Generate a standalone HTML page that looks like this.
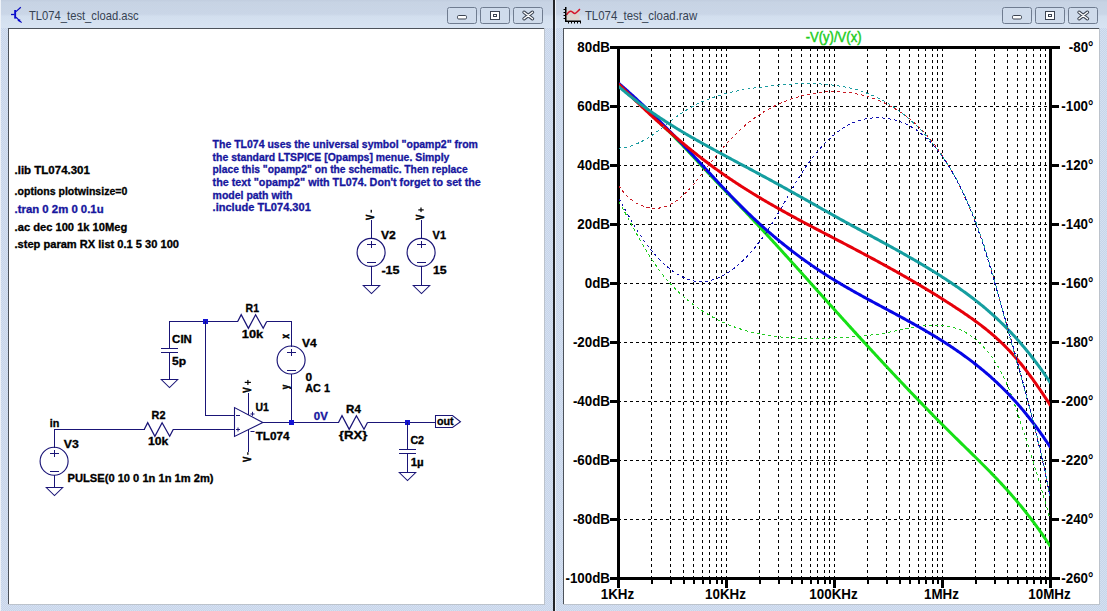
<!DOCTYPE html><html><head><meta charset="utf-8"><title>LTspice</title><style>
html,body{margin:0;padding:0;background:#cbd8ec;}
body{width:1107px;height:611px;overflow:hidden;background:#cbd8ec;position:relative;font-family:"Liberation Sans",sans-serif;}
svg{position:absolute;left:0;top:0;}
text{font-family:"Liberation Sans",sans-serif;}
</style></head><body>
<svg width="1107" height="611" viewBox="0 0 1107 611">
<defs><pattern id="dith" width="2" height="2" patternUnits="userSpaceOnUse"><rect width="2" height="2" fill="#c6d4ea"/><rect width="1" height="1" fill="#d6e1f1"/><rect x="1" y="1" width="1" height="1" fill="#d6e1f1"/></pattern></defs>
<rect x="0" y="0" width="1107" height="611" fill="url(#dith)"/>
<linearGradient id="tbg" x1="0" y1="0" x2="0" y2="1"><stop offset="0" stop-color="#bfcbdc"/><stop offset="0.08" stop-color="#c6d2e2"/><stop offset="0.5" stop-color="#c9d5e6"/><stop offset="0.58" stop-color="#d3dfee"/><stop offset="1" stop-color="#d9e5f3"/></linearGradient>
<rect x="0" y="0" width="1107" height="28" fill="url(#tbg)" opacity="0.85"/>
<rect x="0" y="0" width="1" height="611" fill="#eef2f8"/>
<rect x="8" y="28" width="537" height="577" fill="#bcc3cc"/>
<rect x="8" y="28" width="536" height="1" fill="#4c525a"/>
<rect x="8" y="28" width="1" height="576" fill="#4c525a"/>
<rect x="9" y="29" width="535" height="575" fill="#ffffff"/>
<rect x="563" y="28" width="537" height="577" fill="#bcc3cc"/>
<rect x="563" y="28" width="536" height="1" fill="#4c525a"/>
<rect x="563" y="28" width="1" height="576" fill="#4c525a"/>
<rect x="564" y="29" width="535" height="575" fill="#ffffff"/>
<rect x="553" y="0" width="2" height="611" fill="#222428"/>
<rect x="555" y="0" width="1" height="611" fill="#eef3fa"/>
<rect x="447.5" y="7.5" width="29" height="16" rx="2" fill="#cfdbeb" stroke="#6f7c90" stroke-width="1"/>
<rect x="480.5" y="7.5" width="29" height="16" rx="2" fill="#cfdbeb" stroke="#6f7c90" stroke-width="1"/>
<rect x="513.5" y="7.5" width="29" height="16" rx="2" fill="#cfdbeb" stroke="#6f7c90" stroke-width="1"/>
<rect x="457.5" y="15.5" width="9" height="3.5" rx="1.2" fill="#ffffff" stroke="#3c4452" stroke-width="1"/>
<rect x="490.5" y="11.5" width="9" height="8" fill="#ffffff" stroke="#3c4452" stroke-width="1"/>
<rect x="493.5" y="14.5" width="3" height="2" fill="#ffffff" stroke="#3c4452" stroke-width="1"/>
<path d="M524,12.2 L532.5,18.8 M532.5,12.2 L524,18.8" stroke="#3c4452" stroke-width="3.4" stroke-linecap="round"/>
<path d="M524,12.2 L532.5,18.8 M532.5,12.2 L524,18.8" stroke="#ffffff" stroke-width="1.4" stroke-linecap="round"/>
<rect x="1002.5" y="7.5" width="29" height="16" rx="2" fill="#cfdbeb" stroke="#6f7c90" stroke-width="1"/>
<rect x="1035.5" y="7.5" width="29" height="16" rx="2" fill="#cfdbeb" stroke="#6f7c90" stroke-width="1"/>
<rect x="1068.5" y="7.5" width="29" height="16" rx="2" fill="#cfdbeb" stroke="#6f7c90" stroke-width="1"/>
<rect x="1012.5" y="15.5" width="9" height="3.5" rx="1.2" fill="#ffffff" stroke="#3c4452" stroke-width="1"/>
<rect x="1045.5" y="11.5" width="9" height="8" fill="#ffffff" stroke="#3c4452" stroke-width="1"/>
<rect x="1048.5" y="14.5" width="3" height="2" fill="#ffffff" stroke="#3c4452" stroke-width="1"/>
<path d="M1079,12.2 L1087.5,18.8 M1087.5,12.2 L1079,18.8" stroke="#3c4452" stroke-width="3.4" stroke-linecap="round"/>
<path d="M1079,12.2 L1087.5,18.8 M1087.5,12.2 L1079,18.8" stroke="#ffffff" stroke-width="1.4" stroke-linecap="round"/>
<text transform="translate(29.0,19.6) scale(0.935,1)" x="0" y="0" font-size="12" fill="#364253" font-weight="normal" text-anchor="start">TL074_test_cload.asc</text>
<text transform="translate(584.9,19.6) scale(0.952,1)" x="0" y="0" font-size="12" fill="#364253" font-weight="normal" text-anchor="start">TL074_test_cload.raw</text>
<g stroke="#0a0ac0" fill="none"><line x1="11" y1="14.5" x2="14.5" y2="14.5" stroke-width="1.3"/><rect x="14.2" y="10" width="1.9" height="8.6" fill="#0a0ad0" stroke="none"/><line x1="16" y1="11.6" x2="20.8" y2="7.2" stroke-width="1.2"/><line x1="16" y1="17.2" x2="21.6" y2="22.6" stroke-width="1.2"/><path d="M17.3,20.3 L20.3,19.2 L19.6,22.2 Z" fill="#0a0ad0" stroke="none"/></g>
<g><rect x="566" y="10" width="13.5" height="10.5" fill="#ddd3c8" opacity="0.8"/><path d="M566.5,14.8 C568,12.5 569.5,11 571,11.2 C572.5,11.4 573.5,13.6 575,13.4 C576.8,13.2 578.2,10.5 580,9.2" stroke="#d41428" stroke-width="1.5" fill="none"/><rect x="565" y="7" width="1.5" height="15" fill="#000"/><rect x="565" y="20.5" width="16" height="1.5" fill="#000"/><rect x="563.5" y="9" width="2" height="1" fill="#000"/><rect x="563.5" y="12" width="2" height="1" fill="#000"/><rect x="563.5" y="15" width="2" height="1" fill="#000"/><rect x="563.5" y="18" width="2" height="1" fill="#000"/><rect x="568" y="22" width="1" height="1.5" fill="#000"/><rect x="571" y="22" width="1" height="1.5" fill="#000"/><rect x="574" y="22" width="1" height="1.5" fill="#000"/><rect x="577" y="22" width="1" height="1.5" fill="#000"/><rect x="580" y="22" width="1" height="1.5" fill="#000"/></g>
<rect x="371" y="220" width="1" height="19" fill="#1a1577"/>
<circle cx="371.1" cy="252.4" r="14" fill="none" stroke="#1a1577" stroke-width="1.15"/>
<rect x="367" y="244" width="9" height="1" fill="#1a1577"/>
<rect x="371" y="241" width="1" height="7" fill="#1a1577"/>
<rect x="367" y="262" width="9" height="1" fill="#1a1577"/>
<rect x="371" y="266" width="1" height="20" fill="#1a1577"/>
<path d="M363.3,285.5 L379.7,285.5 L371.5,293.6 Z" fill="none" stroke="#1a1577" stroke-width="1.05"/>
<rect x="421" y="220" width="1" height="19" fill="#1a1577"/>
<circle cx="421.1" cy="252.4" r="14" fill="none" stroke="#1a1577" stroke-width="1.15"/>
<rect x="417" y="244" width="9" height="1" fill="#1a1577"/>
<rect x="421" y="241" width="1" height="7" fill="#1a1577"/>
<rect x="417" y="262" width="9" height="1" fill="#1a1577"/>
<rect x="421" y="266" width="1" height="20" fill="#1a1577"/>
<path d="M413.3,285.5 L429.7,285.5 L421.5,293.6 Z" fill="none" stroke="#1a1577" stroke-width="1.05"/>
<text transform="translate(374.4,219.9) rotate(-90) scale(0.8,1)" x="0" y="0" font-size="10" font-weight="bold" fill="#000" stroke="#000" stroke-width="0.6">V</text>
<text transform="translate(424.4,219.9) rotate(-90) scale(0.8,1)" x="0" y="0" font-size="10" font-weight="bold" fill="#000" stroke="#000" stroke-width="0.6">V</text>
<rect x="370.6" y="209.8" width="1.3" height="2.8" fill="#000"/>
<rect x="418.3" y="209.3" width="5.4" height="1.2" fill="#000"/><rect x="420.4" y="207.5" width="1.2" height="4.6" fill="#000"/>
<rect x="169" y="321" width="69" height="1" fill="#1a1577"/>
<path d="M237.7,321.5 L241.2,314.7 L248.4,328.3 L255.6,314.7 L263.2,328.3 L266.7,321.5" fill="none" stroke="#1a1577" stroke-width="1.25"/>
<rect x="266.7" y="321" width="25.30000000000001" height="1" fill="#1a1577"/>
<rect x="203" y="319" width="5" height="5" fill="#1414d4"/>
<rect x="169" y="321" width="1" height="28" fill="#1a1577"/>
<rect x="161" y="348" width="17" height="1" fill="#1a1577"/>
<rect x="161" y="352" width="17" height="1" fill="#1a1577"/>
<rect x="169" y="352" width="1" height="28" fill="#1a1577"/>
<path d="M161.3,379.5 L177.7,379.5 L169.5,387.6 Z" fill="none" stroke="#1a1577" stroke-width="1.05"/>
<rect x="205" y="321" width="1" height="95" fill="#1a1577"/>
<rect x="205" y="415" width="30" height="1" fill="#1a1577"/>
<rect x="291" y="321" width="1" height="26" fill="#1a1577"/>
<circle cx="291.1" cy="360.0" r="14" fill="none" stroke="#1a1577" stroke-width="1.15"/>
<rect x="287" y="352" width="9" height="1" fill="#1a1577"/>
<rect x="291" y="349" width="1" height="7" fill="#1a1577"/>
<rect x="287" y="370" width="9" height="1" fill="#1a1577"/>
<rect x="291" y="374" width="1" height="49" fill="#1a1577"/>
<text transform="translate(288.5,338.5) rotate(-90) scale(0.8,1)" x="0" y="0" font-size="10" font-weight="bold" fill="#000" stroke="#000" stroke-width="0.6">x</text>
<text transform="translate(288.5,389.3) rotate(-90) scale(0.8,1)" x="0" y="0" font-size="10" font-weight="bold" fill="#000" stroke="#000" stroke-width="0.6">y</text>
<path d="M234.5,407.6 L234.5,436.4 L262.8,422.5 Z" fill="none" stroke="#1a1577" stroke-width="1.1"/>
<rect x="236" y="415" width="4" height="1" fill="#1a1577"/>
<rect x="236" y="429" width="4" height="1" fill="#1a1577"/>
<rect x="237.5" y="427.5" width="1" height="4" fill="#1a1577"/>
<rect x="248" y="393" width="1" height="22" fill="#1a1577"/>
<rect x="248" y="430" width="1" height="22" fill="#1a1577"/>
<rect x="250.5" y="413.5" width="4" height="1" fill="#1a1577"/>
<rect x="252" y="411.8" width="1" height="4" fill="#1a1577"/>
<rect x="250.5" y="431" width="4" height="1" fill="#1a1577"/>
<text transform="translate(251.2,392.8) rotate(-90) scale(0.8,1)" x="0" y="0" font-size="10" font-weight="bold" fill="#000" stroke="#000" stroke-width="0.6">V</text>
<text transform="translate(251.2,461.9) rotate(-90) scale(0.8,1)" x="0" y="0" font-size="10" font-weight="bold" fill="#000" stroke="#000" stroke-width="0.6">V</text>
<rect x="244.7" y="381.8" width="6.2" height="1.2" fill="#000"/><rect x="247.3" y="379.9" width="1.2" height="5" fill="#000"/>
<rect x="247.2" y="452.2" width="1.3" height="2.6" fill="#000"/>
<rect x="54" y="429" width="91" height="1" fill="#1a1577"/>
<path d="M144.2,429.5 L147.7,422.7 L154.9,436.3 L162.1,422.7 L169.7,436.3 L173.2,429.5" fill="none" stroke="#1a1577" stroke-width="1.25"/>
<rect x="172.9" y="429" width="62.099999999999994" height="1" fill="#1a1577"/>
<rect x="54" y="429" width="1" height="19" fill="#1a1577"/>
<circle cx="54.1" cy="461.2" r="14" fill="none" stroke="#1a1577" stroke-width="1.15"/>
<rect x="50" y="453" width="9" height="1" fill="#1a1577"/>
<rect x="54" y="450" width="1" height="7" fill="#1a1577"/>
<rect x="50" y="471" width="9" height="1" fill="#1a1577"/>
<rect x="54" y="475" width="1" height="13" fill="#1a1577"/>
<path d="M46.3,487.5 L62.7,487.5 L54.5,495.6 Z" fill="none" stroke="#1a1577" stroke-width="1.05"/>
<rect x="262" y="422" width="77" height="1" fill="#1a1577"/>
<rect x="289" y="420" width="5" height="5" fill="#1414d4"/>
<path d="M338.5,422.5 L342.0,415.7 L349.2,429.3 L356.4,415.7 L364.0,429.3 L367.5,422.5" fill="none" stroke="#1a1577" stroke-width="1.25"/>
<rect x="367.3" y="422" width="68.69999999999999" height="1" fill="#1a1577"/>
<rect x="405" y="420" width="5" height="5" fill="#1414d4"/>
<rect x="407" y="422" width="1" height="28" fill="#1a1577"/>
<rect x="399" y="449" width="17" height="1" fill="#1a1577"/>
<rect x="399" y="453" width="17" height="1" fill="#1a1577"/>
<rect x="407" y="453" width="1" height="20" fill="#1a1577"/>
<path d="M399.3,472.5 L415.7,472.5 L407.5,480.6 Z" fill="none" stroke="#1a1577" stroke-width="1.05"/>
<path d="M435.5,415.5 L452.5,415.5 L460.5,421.8 L452.5,427.5 L435.5,427.5 Z" fill="none" stroke="#1a1577" stroke-width="1.05"/>
<text x="14.5" y="174" font-size="10.4" fill="#000" font-weight="bold" text-anchor="start" textLength="75.4" lengthAdjust="spacingAndGlyphs" stroke="#000" stroke-width="0.3">.lib TL074.301</text>
<text x="14.6" y="194.7" font-size="10.4" fill="#000" font-weight="bold" text-anchor="start" textLength="112.7" lengthAdjust="spacingAndGlyphs" stroke="#000" stroke-width="0.3">.options plotwinsize=0</text>
<text x="14.6" y="212.7" font-size="10.4" fill="#16169e" font-weight="bold" text-anchor="start" textLength="89.0" lengthAdjust="spacingAndGlyphs" stroke="#16169e" stroke-width="0.3">.tran 0 2m 0 0.1u</text>
<text x="14.6" y="230.6" font-size="10.4" fill="#000" font-weight="bold" text-anchor="start" textLength="112.7" lengthAdjust="spacingAndGlyphs" stroke="#000" stroke-width="0.3">.ac dec 100 1k 10Meg</text>
<text x="14.5" y="248.4" font-size="10.4" fill="#000" font-weight="bold" text-anchor="start" textLength="164.5" lengthAdjust="spacingAndGlyphs" stroke="#000" stroke-width="0.3">.step param RX list 0.1 5 30 100</text>
<text x="212.6" y="147.8" font-size="10.4" fill="#16169e" font-weight="bold" text-anchor="start" textLength="265.3" lengthAdjust="spacingAndGlyphs" stroke="#16169e" stroke-width="0.3">The TL074 uses the universal symbol &quot;opamp2&quot; from</text>
<text x="212.6" y="160.5" font-size="10.4" fill="#16169e" font-weight="bold" text-anchor="start" textLength="236.8" lengthAdjust="spacingAndGlyphs" stroke="#16169e" stroke-width="0.3">the standard LTSPICE [Opamps] menue. Simply</text>
<text x="212.6" y="173.2" font-size="10.4" fill="#16169e" font-weight="bold" text-anchor="start" textLength="255.1" lengthAdjust="spacingAndGlyphs" stroke="#16169e" stroke-width="0.3">place this &quot;opamp2&quot; on the schematic. Then replace</text>
<text x="212.6" y="185.9" font-size="10.4" fill="#16169e" font-weight="bold" text-anchor="start" textLength="268.2" lengthAdjust="spacingAndGlyphs" stroke="#16169e" stroke-width="0.3">the text &quot;opamp2&quot; with TL074. Don't forget to set the</text>
<text x="212.6" y="198.6" font-size="10.4" fill="#16169e" font-weight="bold" text-anchor="start" textLength="79.8" lengthAdjust="spacingAndGlyphs" stroke="#16169e" stroke-width="0.3">model path with</text>
<text x="212.6" y="211.3" font-size="10.4" fill="#16169e" font-weight="bold" text-anchor="start" textLength="98.2" lengthAdjust="spacingAndGlyphs" stroke="#16169e" stroke-width="0.3">.include TL074.301</text>
<text x="381" y="238.6" font-size="10.4" fill="#000" font-weight="bold" text-anchor="start" textLength="14.8" lengthAdjust="spacingAndGlyphs" stroke="#000" stroke-width="0.3">V2</text>
<text x="381.4" y="274.3" font-size="10.4" fill="#000" font-weight="bold" text-anchor="start" textLength="18.2" lengthAdjust="spacingAndGlyphs" stroke="#000" stroke-width="0.3">-15</text>
<text x="432.6" y="238.6" font-size="10.4" fill="#000" font-weight="bold" text-anchor="start" textLength="13.4" lengthAdjust="spacingAndGlyphs" stroke="#000" stroke-width="0.3">V1</text>
<text x="433" y="274.3" font-size="10.4" fill="#000" font-weight="bold" text-anchor="start" textLength="13.7" lengthAdjust="spacingAndGlyphs" stroke="#000" stroke-width="0.3">15</text>
<text x="245.6" y="311.8" font-size="10.4" fill="#000" font-weight="bold" text-anchor="start" textLength="13.4" lengthAdjust="spacingAndGlyphs" stroke="#000" stroke-width="0.3">R1</text>
<text x="241.8" y="337.6" font-size="10.4" fill="#000" font-weight="bold" text-anchor="start" textLength="21.3" lengthAdjust="spacingAndGlyphs" stroke="#000" stroke-width="0.3">10k</text>
<text x="172.1" y="342.9" font-size="10.4" fill="#000" font-weight="bold" text-anchor="start" textLength="19.8" lengthAdjust="spacingAndGlyphs" stroke="#000" stroke-width="0.3">CIN</text>
<text x="172.1" y="364.6" font-size="10.4" fill="#000" font-weight="bold" text-anchor="start" textLength="14.1" lengthAdjust="spacingAndGlyphs" stroke="#000" stroke-width="0.3">5p</text>
<text x="302.1" y="346.8" font-size="10.4" fill="#000" font-weight="bold" text-anchor="start" textLength="14.7" lengthAdjust="spacingAndGlyphs" stroke="#000" stroke-width="0.3">V4</text>
<text x="305.6" y="380.7" font-size="10.4" fill="#000" font-weight="bold" text-anchor="start" textLength="6.6" lengthAdjust="spacingAndGlyphs" stroke="#000" stroke-width="0.3">0</text>
<text x="305.3" y="392.3" font-size="10.4" fill="#000" font-weight="bold" text-anchor="start" textLength="24.6" lengthAdjust="spacingAndGlyphs" stroke="#000" stroke-width="0.3">AC 1</text>
<text x="255.5" y="410.7" font-size="10.4" fill="#000" font-weight="bold" text-anchor="start" textLength="13.4" lengthAdjust="spacingAndGlyphs" stroke="#000" stroke-width="0.3">U1</text>
<text x="255.7" y="439.7" font-size="10.4" fill="#000" font-weight="bold" text-anchor="start" textLength="33.9" lengthAdjust="spacingAndGlyphs" stroke="#000" stroke-width="0.3">TL074</text>
<text x="313.8" y="419.7" font-size="10.4" fill="#16169e" font-weight="bold" text-anchor="start" textLength="14.0" lengthAdjust="spacingAndGlyphs" stroke="#16169e" stroke-width="0.3">0V</text>
<text x="346.1" y="412.6" font-size="10.4" fill="#000" font-weight="bold" text-anchor="start" textLength="14.8" lengthAdjust="spacingAndGlyphs" stroke="#000" stroke-width="0.3">R4</text>
<text x="338.8" y="438.9" font-size="10.4" fill="#000" font-weight="bold" text-anchor="start" textLength="28.6" lengthAdjust="spacingAndGlyphs" stroke="#000" stroke-width="0.3">{RX}</text>
<text x="410.4" y="443.6" font-size="10.4" fill="#000" font-weight="bold" text-anchor="start" textLength="13.7" lengthAdjust="spacingAndGlyphs" stroke="#000" stroke-width="0.3">C2</text>
<text x="410.7" y="465.8" font-size="10.4" fill="#000" font-weight="bold" text-anchor="start" textLength="13.0" lengthAdjust="spacingAndGlyphs" stroke="#000" stroke-width="0.3">1µ</text>
<text x="436.9" y="425.3" font-size="10.4" fill="#000" font-weight="bold" text-anchor="start" textLength="16.7" lengthAdjust="spacingAndGlyphs" stroke="#000" stroke-width="0.3">out</text>
<text x="49.7" y="427" font-size="10.4" fill="#000" font-weight="bold" text-anchor="start" textLength="9.6" lengthAdjust="spacingAndGlyphs" stroke="#000" stroke-width="0.3">in</text>
<text x="151.6" y="419.4" font-size="10.4" fill="#000" font-weight="bold" text-anchor="start" textLength="13.9" lengthAdjust="spacingAndGlyphs" stroke="#000" stroke-width="0.3">R2</text>
<text x="148.1" y="445.4" font-size="10.4" fill="#000" font-weight="bold" text-anchor="start" textLength="20.3" lengthAdjust="spacingAndGlyphs" stroke="#000" stroke-width="0.3">10k</text>
<text x="63.8" y="447.6" font-size="10.4" fill="#000" font-weight="bold" text-anchor="start" textLength="15.0" lengthAdjust="spacingAndGlyphs" stroke="#000" stroke-width="0.3">V3</text>
<text x="67.6" y="481.6" font-size="10.4" fill="#000" font-weight="bold" text-anchor="start" textLength="145.9" lengthAdjust="spacingAndGlyphs" stroke="#000" stroke-width="0.3">PULSE(0 10 0 1n 1n 1m 2m)</text>
<defs><pattern id="vd" x="0" y="0" width="1" height="6" patternUnits="userSpaceOnUse"><rect width="1" height="3" fill="#000"/></pattern><pattern id="hd" x="0" y="0" width="6" height="1" patternUnits="userSpaceOnUse"><rect width="3" height="1" fill="#000"/></pattern></defs>
<rect x="651" y="49" width="1" height="528" fill="url(#vd)"/>
<rect x="670" y="49" width="1" height="528" fill="url(#vd)"/>
<rect x="683" y="49" width="1" height="528" fill="url(#vd)"/>
<rect x="693" y="49" width="1" height="528" fill="url(#vd)"/>
<rect x="702" y="49" width="1" height="528" fill="url(#vd)"/>
<rect x="709" y="49" width="1" height="528" fill="url(#vd)"/>
<rect x="716" y="49" width="1" height="528" fill="url(#vd)"/>
<rect x="721" y="49" width="1" height="528" fill="url(#vd)"/>
<rect x="726" y="49" width="1" height="528" fill="url(#vd)"/>
<rect x="759" y="49" width="1" height="528" fill="url(#vd)"/>
<rect x="778" y="49" width="1" height="528" fill="url(#vd)"/>
<rect x="791" y="49" width="1" height="528" fill="url(#vd)"/>
<rect x="801" y="49" width="1" height="528" fill="url(#vd)"/>
<rect x="810" y="49" width="1" height="528" fill="url(#vd)"/>
<rect x="817" y="49" width="1" height="528" fill="url(#vd)"/>
<rect x="824" y="49" width="1" height="528" fill="url(#vd)"/>
<rect x="829" y="49" width="1" height="528" fill="url(#vd)"/>
<rect x="834" y="49" width="1" height="528" fill="url(#vd)"/>
<rect x="867" y="49" width="1" height="528" fill="url(#vd)"/>
<rect x="886" y="49" width="1" height="528" fill="url(#vd)"/>
<rect x="899" y="49" width="1" height="528" fill="url(#vd)"/>
<rect x="909" y="49" width="1" height="528" fill="url(#vd)"/>
<rect x="918" y="49" width="1" height="528" fill="url(#vd)"/>
<rect x="925" y="49" width="1" height="528" fill="url(#vd)"/>
<rect x="932" y="49" width="1" height="528" fill="url(#vd)"/>
<rect x="937" y="49" width="1" height="528" fill="url(#vd)"/>
<rect x="942" y="49" width="1" height="528" fill="url(#vd)"/>
<rect x="975" y="49" width="1" height="528" fill="url(#vd)"/>
<rect x="994" y="49" width="1" height="528" fill="url(#vd)"/>
<rect x="1007" y="49" width="1" height="528" fill="url(#vd)"/>
<rect x="1017" y="49" width="1" height="528" fill="url(#vd)"/>
<rect x="1026" y="49" width="1" height="528" fill="url(#vd)"/>
<rect x="1033" y="49" width="1" height="528" fill="url(#vd)"/>
<rect x="1040" y="49" width="1" height="528" fill="url(#vd)"/>
<rect x="1045" y="49" width="1" height="528" fill="url(#vd)"/>
<rect x="620" y="106" width="429" height="1" fill="url(#hd)"/>
<rect x="620" y="165" width="429" height="1" fill="url(#hd)"/>
<rect x="620" y="224" width="429" height="1" fill="url(#hd)"/>
<rect x="620" y="283" width="429" height="1" fill="url(#hd)"/>
<rect x="620" y="342" width="429" height="1" fill="url(#hd)"/>
<rect x="620" y="401" width="429" height="1" fill="url(#hd)"/>
<rect x="620" y="460" width="429" height="1" fill="url(#hd)"/>
<rect x="620" y="519" width="429" height="1" fill="url(#hd)"/>
<rect x="610" y="46" width="450" height="3" fill="#000"/>
<rect x="610" y="577" width="450" height="3" fill="#000"/>
<rect x="617" y="46" width="3" height="542" fill="#000"/>
<rect x="1049" y="46" width="3" height="542" fill="#000"/>
<rect x="610" y="105" width="8" height="3" fill="#000"/>
<rect x="1051" y="105" width="8" height="3" fill="#000"/>
<rect x="610" y="164" width="8" height="3" fill="#000"/>
<rect x="1051" y="164" width="8" height="3" fill="#000"/>
<rect x="610" y="223" width="8" height="3" fill="#000"/>
<rect x="1051" y="223" width="8" height="3" fill="#000"/>
<rect x="610" y="282" width="8" height="3" fill="#000"/>
<rect x="1051" y="282" width="8" height="3" fill="#000"/>
<rect x="610" y="341" width="8" height="3" fill="#000"/>
<rect x="1051" y="341" width="8" height="3" fill="#000"/>
<rect x="610" y="400" width="8" height="3" fill="#000"/>
<rect x="1051" y="400" width="8" height="3" fill="#000"/>
<rect x="610" y="459" width="8" height="3" fill="#000"/>
<rect x="1051" y="459" width="8" height="3" fill="#000"/>
<rect x="610" y="518" width="8" height="3" fill="#000"/>
<rect x="1051" y="518" width="8" height="3" fill="#000"/>
<rect x="651" y="580" width="2" height="4" fill="#000"/>
<rect x="670" y="580" width="2" height="4" fill="#000"/>
<rect x="683" y="580" width="2" height="4" fill="#000"/>
<rect x="693" y="580" width="2" height="4" fill="#000"/>
<rect x="702" y="580" width="2" height="4" fill="#000"/>
<rect x="709" y="580" width="2" height="4" fill="#000"/>
<rect x="716" y="580" width="2" height="4" fill="#000"/>
<rect x="721" y="580" width="2" height="4" fill="#000"/>
<rect x="725" y="580" width="3" height="8" fill="#000"/>
<rect x="759" y="580" width="2" height="4" fill="#000"/>
<rect x="778" y="580" width="2" height="4" fill="#000"/>
<rect x="791" y="580" width="2" height="4" fill="#000"/>
<rect x="801" y="580" width="2" height="4" fill="#000"/>
<rect x="810" y="580" width="2" height="4" fill="#000"/>
<rect x="817" y="580" width="2" height="4" fill="#000"/>
<rect x="824" y="580" width="2" height="4" fill="#000"/>
<rect x="829" y="580" width="2" height="4" fill="#000"/>
<rect x="833" y="580" width="3" height="8" fill="#000"/>
<rect x="867" y="580" width="2" height="4" fill="#000"/>
<rect x="886" y="580" width="2" height="4" fill="#000"/>
<rect x="899" y="580" width="2" height="4" fill="#000"/>
<rect x="909" y="580" width="2" height="4" fill="#000"/>
<rect x="918" y="580" width="2" height="4" fill="#000"/>
<rect x="925" y="580" width="2" height="4" fill="#000"/>
<rect x="932" y="580" width="2" height="4" fill="#000"/>
<rect x="937" y="580" width="2" height="4" fill="#000"/>
<rect x="941" y="580" width="3" height="8" fill="#000"/>
<rect x="975" y="580" width="2" height="4" fill="#000"/>
<rect x="994" y="580" width="2" height="4" fill="#000"/>
<rect x="1007" y="580" width="2" height="4" fill="#000"/>
<rect x="1017" y="580" width="2" height="4" fill="#000"/>
<rect x="1026" y="580" width="2" height="4" fill="#000"/>
<rect x="1033" y="580" width="2" height="4" fill="#000"/>
<rect x="1040" y="580" width="2" height="4" fill="#000"/>
<rect x="1045" y="580" width="2" height="4" fill="#000"/>
<clipPath id="pc"><rect x="619" y="48" width="431" height="530"/></clipPath>
<g clip-path="url(#pc)" fill="none" stroke-linejoin="round" stroke-linecap="butt">
<path d="M618.50,84.51 L619.50,85.45 L620.50,86.39 L621.50,87.32 L622.50,88.25 L623.50,89.17 L624.50,90.10 L625.50,91.02 L626.50,91.94 L627.50,92.86 L628.50,93.78 L629.50,94.70 L630.50,95.61 L631.50,96.53 L632.50,97.44 L633.50,98.36 L634.50,99.27 L635.50,100.18 L636.50,101.09 L637.50,102.00 L638.50,102.92 L639.50,103.83 L640.50,104.74 L641.50,105.65 L642.50,106.57 L643.50,107.48 L644.50,108.40 L645.50,109.31 L646.50,110.23 L647.50,111.15 L648.50,112.07 L649.50,112.99 L650.50,113.92 L651.50,114.85 L652.50,115.77 L653.50,116.70 L654.50,117.64 L655.50,118.57 L656.50,119.51 L657.50,120.46 L658.50,121.40 L659.50,122.35 L660.50,123.30 L661.50,124.26 L662.50,125.21 L663.50,126.18 L664.50,127.14 L665.50,128.12 L666.50,129.09 L667.50,130.07 L668.50,131.05 L669.50,132.04 L670.50,133.04 L671.50,134.04 L672.50,135.04 L673.50,136.05 L674.50,137.06 L675.50,138.08 L676.50,139.10 L677.50,140.13 L678.50,141.16 L679.50,142.20 L680.50,143.23 L681.50,144.27 L682.50,145.32 L683.50,146.37 L684.50,147.42 L685.50,148.47 L686.50,149.53 L687.50,150.59 L688.50,151.65 L689.50,152.72 L690.50,153.79 L691.50,154.86 L692.50,155.93 L693.50,157.00 L694.50,158.08 L695.50,159.15 L696.50,160.23 L697.50,161.31 L698.50,162.39 L699.50,163.47 L700.50,164.55 L701.50,165.63 L702.50,166.71 L703.50,167.79 L704.50,168.87 L705.50,169.95 L706.50,171.03 L707.50,172.11 L708.50,173.18 L709.50,174.25 L710.50,175.33 L711.50,176.40 L712.50,177.46 L713.50,178.53 L714.50,179.59 L715.50,180.65 L716.50,181.71 L717.50,182.76 L718.50,183.81 L719.50,184.85 L720.50,185.90 L721.50,186.94 L722.50,187.98 L723.50,189.02 L724.50,190.05 L725.50,191.09 L726.50,192.12 L727.50,193.15 L728.50,194.18 L729.50,195.21 L730.50,196.25 L731.50,197.28 L732.50,198.31 L733.50,199.34 L734.50,200.37 L735.50,201.40 L736.50,202.44 L737.50,203.47 L738.50,204.51 L739.50,205.55 L740.50,206.59 L741.50,207.63 L742.50,208.67 L743.50,209.72 L744.50,210.77 L745.50,211.82 L746.50,212.87 L747.50,213.93 L748.50,214.98 L749.50,216.04 L750.50,217.10 L751.50,218.16 L752.50,219.23 L753.50,220.29 L754.50,221.36 L755.50,222.43 L756.50,223.50 L757.50,224.57 L758.50,225.64 L759.50,226.72 L760.50,227.80 L761.50,228.87 L762.50,229.95 L763.50,231.04 L764.50,232.12 L765.50,233.20 L766.50,234.29 L767.50,235.37 L768.50,236.46 L769.50,237.55 L770.50,238.64 L771.50,239.73 L772.50,240.83 L773.50,241.92 L774.50,243.02 L775.50,244.11 L776.50,245.21 L777.50,246.31 L778.50,247.41 L779.50,248.51 L780.50,249.61 L781.50,250.71 L782.50,251.82 L783.50,252.92 L784.50,254.03 L785.50,255.13 L786.50,256.24 L787.50,257.35 L788.50,258.45 L789.50,259.56 L790.50,260.67 L791.50,261.78 L792.50,262.89 L793.50,264.00 L794.50,265.12 L795.50,266.23 L796.50,267.34 L797.50,268.45 L798.50,269.57 L799.50,270.68 L800.50,271.80 L801.50,272.91 L802.50,274.03 L803.50,275.14 L804.50,276.26 L805.50,277.37 L806.50,278.49 L807.50,279.60 L808.50,280.72 L809.50,281.84 L810.50,282.95 L811.50,284.07 L812.50,285.19 L813.50,286.30 L814.50,287.42 L815.50,288.53 L816.50,289.65 L817.50,290.77 L818.50,291.88 L819.50,293.00 L820.50,294.11 L821.50,295.23 L822.50,296.34 L823.50,297.46 L824.50,298.57 L825.50,299.68 L826.50,300.80 L827.50,301.91 L828.50,303.02 L829.50,304.13 L830.50,305.25 L831.50,306.36 L832.50,307.47 L833.50,308.58 L834.50,309.69 L835.50,310.80 L836.50,311.91 L837.50,313.01 L838.50,314.12 L839.50,315.23 L840.50,316.34 L841.50,317.44 L842.50,318.55 L843.50,319.65 L844.50,320.76 L845.50,321.86 L846.50,322.96 L847.50,324.07 L848.50,325.17 L849.50,326.27 L850.50,327.37 L851.50,328.47 L852.50,329.57 L853.50,330.67 L854.50,331.77 L855.50,332.87 L856.50,333.96 L857.50,335.06 L858.50,336.15 L859.50,337.25 L860.50,338.34 L861.50,339.44 L862.50,340.53 L863.50,341.62 L864.50,342.71 L865.50,343.80 L866.50,344.89 L867.50,345.98 L868.50,347.07 L869.50,348.16 L870.50,349.24 L871.50,350.33 L872.50,351.41 L873.50,352.50 L874.50,353.58 L875.50,354.66 L876.50,355.75 L877.50,356.83 L878.50,357.91 L879.50,358.98 L880.50,360.06 L881.50,361.14 L882.50,362.22 L883.50,363.29 L884.50,364.37 L885.50,365.44 L886.50,366.51 L887.50,367.58 L888.50,368.65 L889.50,369.72 L890.50,370.79 L891.50,371.86 L892.50,372.92 L893.50,373.99 L894.50,375.05 L895.50,376.12 L896.50,377.18 L897.50,378.24 L898.50,379.30 L899.50,380.36 L900.50,381.42 L901.50,382.48 L902.50,383.53 L903.50,384.59 L904.50,385.64 L905.50,386.69 L906.50,387.75 L907.50,388.80 L908.50,389.85 L909.50,390.89 L910.50,391.94 L911.50,392.99 L912.50,394.03 L913.50,395.07 L914.50,396.12 L915.50,397.16 L916.50,398.20 L917.50,399.23 L918.50,400.27 L919.50,401.31 L920.50,402.34 L921.50,403.38 L922.50,404.41 L923.50,405.44 L924.50,406.47 L925.50,407.50 L926.50,408.52 L927.50,409.55 L928.50,410.57 L929.50,411.60 L930.50,412.62 L931.50,413.64 L932.50,414.66 L933.50,415.68 L934.50,416.69 L935.50,417.71 L936.50,418.72 L937.50,419.73 L938.50,420.74 L939.50,421.75 L940.50,422.76 L941.50,423.77 L942.50,424.77 L943.50,425.77 L944.50,426.78 L945.50,427.78 L946.50,428.77 L947.50,429.77 L948.50,430.77 L949.50,431.76 L950.50,432.75 L951.50,433.75 L952.50,434.74 L953.50,435.72 L954.50,436.71 L955.50,437.70 L956.50,438.68 L957.50,439.66 L958.50,440.64 L959.50,441.62 L960.50,442.60 L961.50,443.58 L962.50,444.56 L963.50,445.53 L964.50,446.51 L965.50,447.49 L966.50,448.46 L967.50,449.44 L968.50,450.42 L969.50,451.40 L970.50,452.38 L971.50,453.36 L972.50,454.34 L973.50,455.32 L974.50,456.30 L975.50,457.29 L976.50,458.27 L977.50,459.26 L978.50,460.25 L979.50,461.24 L980.50,462.23 L981.50,463.23 L982.50,464.23 L983.50,465.23 L984.50,466.23 L985.50,467.24 L986.50,468.25 L987.50,469.27 L988.50,470.28 L989.50,471.30 L990.50,472.33 L991.50,473.36 L992.50,474.39 L993.50,475.43 L994.50,476.47 L995.50,477.51 L996.50,478.56 L997.50,479.62 L998.50,480.68 L999.50,481.74 L1000.50,482.81 L1001.50,483.89 L1002.50,484.97 L1003.50,486.06 L1004.50,487.15 L1005.50,488.25 L1006.50,489.36 L1007.50,490.47 L1008.50,491.59 L1009.50,492.72 L1010.50,493.85 L1011.50,494.99 L1012.50,496.13 L1013.50,497.29 L1014.50,498.45 L1015.50,499.62 L1016.50,500.79 L1017.50,501.98 L1018.50,503.17 L1019.50,504.37 L1020.50,505.58 L1021.50,506.80 L1022.50,508.03 L1023.50,509.26 L1024.50,510.51 L1025.50,511.76 L1026.50,513.02 L1027.50,514.30 L1028.50,515.58 L1029.50,516.87 L1030.50,518.17 L1031.50,519.49 L1032.50,520.81 L1033.50,522.14 L1034.50,523.48 L1035.50,524.84 L1036.50,526.20 L1037.50,527.58 L1038.50,528.97 L1039.50,530.37 L1040.50,531.78 L1041.50,533.20 L1042.50,534.63 L1043.50,536.08 L1044.50,537.53 L1045.50,539.00 L1046.50,540.49 L1047.50,541.98 L1048.50,543.49 L1049.50,545.01 L1050.50,546.54" stroke="#16e016" stroke-width="3"/>
<path d="M618.93,201.85 L619.70,203.19 L620.48,204.53 L621.24,205.87 L622.00,207.21 L622.76,208.55 L623.51,209.89 L624.26,211.23 L625.00,212.57 L625.74,213.91 L626.48,215.25 L627.21,216.59 L627.94,217.93 L628.67,219.26 L629.40,220.60 L630.13,221.93 L630.86,223.27 L631.58,224.60 L632.30,225.93 L633.03,227.26 L633.75,228.59 L634.48,229.91 L635.20,231.24 L635.93,232.56 L636.66,233.88 L637.39,235.19 L638.12,236.50 L638.85,237.82 L639.59,239.12 L640.32,240.43 L641.06,241.73 L641.81,243.03 L642.55,244.32 L643.30,245.61 L644.06,246.90 L644.82,248.18 L645.58,249.46 L646.35,250.74 L647.12,252.01 L647.90,253.28 L648.68,254.54 L649.47,255.80 L650.27,257.05 L651.07,258.30 L651.88,259.54 L652.69,260.78 L653.51,262.01 L654.34,263.24 L655.18,264.46 L656.02,265.67 L656.87,266.88 L657.73,268.08 L658.60,269.28 L659.48,270.47 L660.37,271.66 L661.26,272.83 L662.17,274.00 L663.09,275.17 L664.01,276.33 L664.95,277.48 L665.90,278.62 L666.86,279.75 L667.83,280.88 L668.81,282.00 L669.80,283.11 L670.81,284.22 L671.82,285.31 L672.85,286.40 L673.89,287.48 L674.94,288.55 L676.01,289.62 L677.08,290.67 L678.17,291.71 L679.26,292.75 L680.37,293.78 L681.48,294.79 L682.61,295.80 L683.74,296.80 L684.89,297.79 L686.04,298.77 L687.21,299.74 L688.38,300.70 L689.57,301.64 L690.76,302.58 L691.96,303.51 L693.17,304.43 L694.39,305.33 L695.62,306.23 L696.85,307.11 L698.09,307.99 L699.34,308.85 L700.60,309.70 L701.87,310.54 L703.14,311.36 L704.42,312.18 L705.71,312.98 L707.00,313.77 L708.30,314.55 L709.61,315.32 L710.92,316.07 L712.24,316.81 L713.57,317.54 L714.90,318.25 L716.24,318.95 L717.58,319.64 L718.93,320.32 L720.28,320.98 L721.64,321.63 L723.00,322.26 L724.37,322.88 L725.74,323.49 L727.12,324.08 L728.50,324.66 L729.88,325.22 L731.27,325.77 L732.66,326.30 L734.06,326.82 L735.46,327.33 L736.86,327.82 L738.27,328.30 L739.68,328.76 L741.09,329.21 L742.51,329.65 L743.93,330.08 L745.35,330.49 L746.78,330.89 L748.21,331.27 L749.64,331.65 L751.08,332.01 L752.52,332.36 L753.96,332.69 L755.41,333.02 L756.85,333.33 L758.31,333.63 L759.76,333.92 L761.22,334.20 L762.68,334.47 L764.14,334.73 L765.60,334.98 L767.07,335.21 L768.54,335.44 L770.01,335.66 L771.49,335.86 L772.96,336.06 L774.44,336.25 L775.92,336.43 L777.41,336.60 L778.89,336.75 L780.38,336.91 L781.87,337.05 L783.36,337.18 L784.86,337.31 L786.35,337.42 L787.85,337.53 L789.35,337.63 L790.85,337.72 L792.35,337.81 L793.86,337.89 L795.36,337.96 L796.87,338.02 L798.38,338.08 L799.89,338.13 L801.40,338.17 L802.92,338.21 L804.43,338.24 L805.95,338.27 L807.47,338.29 L808.98,338.30 L810.50,338.31 L812.02,338.31 L813.55,338.31 L815.07,338.30 L816.59,338.29 L818.12,338.27 L819.64,338.25 L821.17,338.22 L822.70,338.19 L824.22,338.16 L825.75,338.12 L827.28,338.08 L828.81,338.04 L830.34,337.99 L831.87,337.94 L833.40,337.88 L834.93,337.82 L836.46,337.76 L837.99,337.70 L839.52,337.63 L841.06,337.55 L842.59,337.47 L844.12,337.39 L845.65,337.30 L847.18,337.21 L848.71,337.11 L850.24,337.01 L851.78,336.90 L853.31,336.79 L854.84,336.67 L856.37,336.55 L857.90,336.42 L859.43,336.28 L860.96,336.14 L862.48,335.99 L864.01,335.84 L865.54,335.68 L867.06,335.51 L868.59,335.34 L870.11,335.15 L871.64,334.97 L873.16,334.77 L874.68,334.57 L876.20,334.35 L877.72,334.14 L879.24,333.91 L880.76,333.67 L882.28,333.43 L883.79,333.18 L885.30,332.92 L886.82,332.65 L888.33,332.37 L889.84,332.09 L891.34,331.79 L892.85,331.49 L894.36,331.19 L895.86,330.88 L897.36,330.58 L898.86,330.27 L900.36,329.96 L901.85,329.65 L903.35,329.34 L904.84,329.03 L906.33,328.73 L907.82,328.44 L909.30,328.15 L910.79,327.87 L912.27,327.60 L913.75,327.33 L915.23,327.08 L916.70,326.84 L918.17,326.62 L919.64,326.40 L921.11,326.21 L922.58,326.03 L924.04,325.86 L925.50,325.71 L926.95,325.59 L928.40,325.48 L929.85,325.39 L931.29,325.32 L932.73,325.27 L934.17,325.24 L935.60,325.24 L937.02,325.26 L938.44,325.30 L939.85,325.37 L941.26,325.46 L942.66,325.58 L944.05,325.73 L945.44,325.90 L946.82,326.11 L948.19,326.34 L949.56,326.60 L950.92,326.89 L952.27,327.21 L953.61,327.56 L954.94,327.95 L956.26,328.36 L957.58,328.81 L958.88,329.30 L960.18,329.82 L961.46,330.38 L962.74,330.97 L964.00,331.60 L965.26,332.27 L966.50,332.97 L967.73,333.70 L968.95,334.47 L970.16,335.27 L971.35,336.10 L972.54,336.96 L973.71,337.85 L974.87,338.77 L976.01,339.72 L977.14,340.69 L978.26,341.68 L979.37,342.70 L980.46,343.75 L981.53,344.82 L982.59,345.90 L983.64,347.01 L984.67,348.14 L985.69,349.29 L986.69,350.45 L987.67,351.64 L988.64,352.83 L989.59,354.05 L990.53,355.27 L991.44,356.51 L992.34,357.76 L993.23,359.03 L994.09,360.30 L994.94,361.58 L995.77,362.87 L996.58,364.18 L997.38,365.49 L998.17,366.81 L998.93,368.14 L999.69,369.47 L1000.42,370.82 L1001.15,372.17 L1001.86,373.53 L1002.55,374.90 L1003.24,376.27 L1003.91,377.65 L1004.57,379.04 L1005.21,380.43 L1005.85,381.83 L1006.47,383.24 L1007.09,384.65 L1007.69,386.06 L1008.28,387.48 L1008.87,388.90 L1009.44,390.33 L1010.01,391.76 L1010.57,393.19 L1011.11,394.63 L1011.66,396.07 L1012.19,397.51 L1012.72,398.95 L1013.24,400.40 L1013.75,401.85 L1014.26,403.30 L1014.76,404.75 L1015.26,406.20 L1015.76,407.65 L1016.24,409.10 L1016.73,410.55 L1017.21,412.00 L1017.69,413.45 L1018.17,414.90 L1018.64,416.35 L1019.11,417.79 L1019.58,419.24 L1020.05,420.68 L1020.52,422.12 L1020.99,423.55 L1021.45,424.99 L1021.92,426.42 L1022.38,427.85 L1022.84,429.28 L1023.30,430.71 L1023.77,432.14 L1024.22,433.56 L1024.68,434.99 L1025.14,436.41 L1025.60,437.83 L1026.05,439.25 L1026.51,440.67 L1026.96,442.08 L1027.41,443.50 L1027.86,444.91 L1028.31,446.33 L1028.76,447.74 L1029.21,449.16 L1029.66,450.57 L1030.11,451.98 L1030.55,453.39 L1031.00,454.81 L1031.44,456.22 L1031.88,457.63 L1032.32,459.04 L1032.77,460.45 L1033.21,461.86 L1033.64,463.28 L1034.08,464.69 L1034.52,466.10 L1034.96,467.52 L1035.39,468.93 L1035.83,470.35 L1036.26,471.76 L1036.69,473.18 L1037.12,474.60 L1037.55,476.02 L1037.98,477.44 L1038.41,478.86 L1038.84,480.28 L1039.27,481.71 L1039.70,483.13 L1040.12,484.56 L1040.55,485.99 L1040.97,487.42 L1041.39,488.85 L1041.82,490.29 L1042.24,491.72 L1042.66,493.16 L1043.08,494.60 L1043.50,496.05 L1043.92,497.49 L1044.34,498.94 L1044.75,500.39 L1045.17,501.84 L1045.58,503.30 L1046.00,504.76 L1046.41,506.22 L1046.83,507.69 L1047.24,509.15 L1047.65,510.63 L1048.06,512.10 L1048.47,513.58 L1048.88,515.06 L1049.29,516.54 L1049.70,518.03 L1050.11,519.52 L1050.51,521.02" stroke="#22cc22" stroke-width="1" stroke-dasharray="3 3" shape-rendering="crispEdges"/>
<path d="M618.50,83.03 L619.50,83.90 L620.50,84.77 L621.50,85.64 L622.50,86.52 L623.50,87.40 L624.50,88.29 L625.50,89.18 L626.50,90.07 L627.50,90.96 L628.50,91.86 L629.50,92.75 L630.50,93.66 L631.50,94.56 L632.50,95.47 L633.50,96.38 L634.50,97.29 L635.50,98.21 L636.50,99.13 L637.50,100.05 L638.50,100.98 L639.50,101.90 L640.50,102.83 L641.50,103.77 L642.50,104.70 L643.50,105.64 L644.50,106.58 L645.50,107.53 L646.50,108.47 L647.50,109.42 L648.50,110.37 L649.50,111.33 L650.50,112.29 L651.50,113.25 L652.50,114.21 L653.50,115.18 L654.50,116.14 L655.50,117.11 L656.50,118.09 L657.50,119.06 L658.50,120.04 L659.50,121.02 L660.50,122.01 L661.50,122.99 L662.50,123.98 L663.50,124.97 L664.50,125.97 L665.50,126.96 L666.50,127.96 L667.50,128.96 L668.50,129.97 L669.50,130.97 L670.50,131.98 L671.50,132.99 L672.50,134.01 L673.50,135.02 L674.50,136.04 L675.50,137.06 L676.50,138.09 L677.50,139.11 L678.50,140.14 L679.50,141.17 L680.50,142.20 L681.50,143.24 L682.50,144.27 L683.50,145.31 L684.50,146.36 L685.50,147.40 L686.50,148.45 L687.50,149.50 L688.50,150.55 L689.50,151.60 L690.50,152.66 L691.50,153.71 L692.50,154.77 L693.50,155.83 L694.50,156.90 L695.50,157.97 L696.50,159.03 L697.50,160.10 L698.50,161.18 L699.50,162.25 L700.50,163.32 L701.50,164.40 L702.50,165.48 L703.50,166.55 L704.50,167.63 L705.50,168.71 L706.50,169.79 L707.50,170.87 L708.50,171.95 L709.50,173.03 L710.50,174.11 L711.50,175.19 L712.50,176.27 L713.50,177.35 L714.50,178.42 L715.50,179.50 L716.50,180.57 L717.50,181.65 L718.50,182.72 L719.50,183.79 L720.50,184.86 L721.50,185.93 L722.50,186.99 L723.50,188.06 L724.50,189.12 L725.50,190.17 L726.50,191.23 L727.50,192.28 L728.50,193.33 L729.50,194.38 L730.50,195.42 L731.50,196.46 L732.50,197.50 L733.50,198.53 L734.50,199.56 L735.50,200.58 L736.50,201.60 L737.50,202.62 L738.50,203.63 L739.50,204.64 L740.50,205.64 L741.50,206.63 L742.50,207.63 L743.50,208.61 L744.50,209.60 L745.50,210.57 L746.50,211.55 L747.50,212.51 L748.50,213.48 L749.50,214.44 L750.50,215.39 L751.50,216.34 L752.50,217.28 L753.50,218.22 L754.50,219.16 L755.50,220.09 L756.50,221.01 L757.50,221.93 L758.50,222.85 L759.50,223.76 L760.50,224.67 L761.50,225.57 L762.50,226.47 L763.50,227.36 L764.50,228.25 L765.50,229.13 L766.50,230.01 L767.50,230.89 L768.50,231.76 L769.50,232.63 L770.50,233.49 L771.50,234.34 L772.50,235.20 L773.50,236.05 L774.50,236.89 L775.50,237.73 L776.50,238.57 L777.50,239.40 L778.50,240.22 L779.50,241.05 L780.50,241.86 L781.50,242.68 L782.50,243.49 L783.50,244.29 L784.50,245.10 L785.50,245.89 L786.50,246.69 L787.50,247.47 L788.50,248.26 L789.50,249.04 L790.50,249.82 L791.50,250.59 L792.50,251.36 L793.50,252.12 L794.50,252.88 L795.50,253.64 L796.50,254.39 L797.50,255.14 L798.50,255.88 L799.50,256.62 L800.50,257.36 L801.50,258.09 L802.50,258.82 L803.50,259.54 L804.50,260.26 L805.50,260.98 L806.50,261.69 L807.50,262.40 L808.50,263.10 L809.50,263.80 L810.50,264.50 L811.50,265.19 L812.50,265.88 L813.50,266.57 L814.50,267.25 L815.50,267.93 L816.50,268.60 L817.50,269.28 L818.50,269.94 L819.50,270.61 L820.50,271.27 L821.50,271.92 L822.50,272.58 L823.50,273.22 L824.50,273.87 L825.50,274.51 L826.50,275.15 L827.50,275.79 L828.50,276.42 L829.50,277.04 L830.50,277.67 L831.50,278.29 L832.50,278.91 L833.50,279.52 L834.50,280.14 L835.50,280.75 L836.50,281.35 L837.50,281.96 L838.50,282.56 L839.50,283.15 L840.50,283.75 L841.50,284.34 L842.50,284.93 L843.50,285.52 L844.50,286.10 L845.50,286.69 L846.50,287.27 L847.50,287.84 L848.50,288.42 L849.50,288.99 L850.50,289.56 L851.50,290.13 L852.50,290.70 L853.50,291.27 L854.50,291.83 L855.50,292.39 L856.50,292.95 L857.50,293.51 L858.50,294.06 L859.50,294.62 L860.50,295.17 L861.50,295.72 L862.50,296.28 L863.50,296.82 L864.50,297.37 L865.50,297.92 L866.50,298.46 L867.50,299.01 L868.50,299.55 L869.50,300.10 L870.50,300.64 L871.50,301.18 L872.50,301.72 L873.50,302.26 L874.50,302.79 L875.50,303.33 L876.50,303.87 L877.50,304.41 L878.50,304.94 L879.50,305.48 L880.50,306.01 L881.50,306.55 L882.50,307.08 L883.50,307.62 L884.50,308.15 L885.50,308.69 L886.50,309.22 L887.50,309.76 L888.50,310.29 L889.50,310.83 L890.50,311.37 L891.50,311.90 L892.50,312.44 L893.50,312.97 L894.50,313.51 L895.50,314.05 L896.50,314.59 L897.50,315.13 L898.50,315.67 L899.50,316.21 L900.50,316.75 L901.50,317.29 L902.50,317.84 L903.50,318.38 L904.50,318.93 L905.50,319.47 L906.50,320.02 L907.50,320.57 L908.50,321.12 L909.50,321.67 L910.50,322.23 L911.50,322.78 L912.50,323.34 L913.50,323.90 L914.50,324.46 L915.50,325.02 L916.50,325.58 L917.50,326.15 L918.50,326.71 L919.50,327.28 L920.50,327.86 L921.50,328.43 L922.50,329.00 L923.50,329.58 L924.50,330.16 L925.50,330.75 L926.50,331.33 L927.50,331.92 L928.50,332.51 L929.50,333.10 L930.50,333.70 L931.50,334.29 L932.50,334.89 L933.50,335.50 L934.50,336.10 L935.50,336.71 L936.50,337.33 L937.50,337.94 L938.50,338.56 L939.50,339.18 L940.50,339.81 L941.50,340.44 L942.50,341.07 L943.50,341.70 L944.50,342.34 L945.50,342.98 L946.50,343.63 L947.50,344.28 L948.50,344.93 L949.50,345.59 L950.50,346.25 L951.50,346.92 L952.50,347.58 L953.50,348.26 L954.50,348.93 L955.50,349.62 L956.50,350.30 L957.50,350.99 L958.50,351.68 L959.50,352.38 L960.50,353.08 L961.50,353.79 L962.50,354.50 L963.50,355.22 L964.50,355.94 L965.50,356.67 L966.50,357.40 L967.50,358.14 L968.50,358.88 L969.50,359.62 L970.50,360.38 L971.50,361.14 L972.50,361.90 L973.50,362.67 L974.50,363.44 L975.50,364.23 L976.50,365.01 L977.50,365.81 L978.50,366.61 L979.50,367.41 L980.50,368.23 L981.50,369.05 L982.50,369.87 L983.50,370.71 L984.50,371.55 L985.50,372.40 L986.50,373.25 L987.50,374.11 L988.50,374.98 L989.50,375.86 L990.50,376.74 L991.50,377.63 L992.50,378.53 L993.50,379.44 L994.50,380.35 L995.50,381.28 L996.50,382.21 L997.50,383.15 L998.50,384.10 L999.50,385.05 L1000.50,386.02 L1001.50,386.99 L1002.50,387.98 L1003.50,388.97 L1004.50,389.97 L1005.50,390.98 L1006.50,392.00 L1007.50,393.02 L1008.50,394.06 L1009.50,395.11 L1010.50,396.17 L1011.50,397.23 L1012.50,398.31 L1013.50,399.40 L1014.50,400.49 L1015.50,401.60 L1016.50,402.71 L1017.50,403.84 L1018.50,404.98 L1019.50,406.13 L1020.50,407.29 L1021.50,408.46 L1022.50,409.64 L1023.50,410.83 L1024.50,412.03 L1025.50,413.24 L1026.50,414.47 L1027.50,415.71 L1028.50,416.95 L1029.50,418.21 L1030.50,419.48 L1031.50,420.77 L1032.50,422.06 L1033.50,423.37 L1034.50,424.69 L1035.50,426.02 L1036.50,427.36 L1037.50,428.72 L1038.50,430.09 L1039.50,431.47 L1040.50,432.86 L1041.50,434.27 L1042.50,435.69 L1043.50,437.12 L1044.50,438.57 L1045.50,440.03 L1046.50,441.50 L1047.50,442.99 L1048.50,444.49 L1049.50,446.00 L1050.50,447.53" stroke="#0606e6" stroke-width="3"/>
<path d="M618.93,198.52 L619.63,199.76 L620.34,201.01 L621.04,202.26 L621.75,203.52 L622.45,204.79 L623.16,206.06 L623.87,207.33 L624.58,208.61 L625.29,209.89 L626.01,211.18 L626.73,212.47 L627.45,213.76 L628.18,215.05 L628.91,216.35 L629.65,217.65 L630.39,218.95 L631.14,220.25 L631.90,221.56 L632.66,222.86 L633.43,224.16 L634.20,225.47 L634.99,226.77 L635.78,228.07 L636.58,229.37 L637.39,230.67 L638.21,231.97 L639.04,233.27 L639.87,234.56 L640.72,235.85 L641.58,237.14 L642.45,238.42 L643.34,239.70 L644.23,240.98 L645.14,242.25 L646.06,243.52 L647.00,244.78 L647.94,246.04 L648.90,247.29 L649.88,248.53 L650.87,249.77 L651.88,251.00 L652.90,252.23 L653.94,253.44 L654.99,254.65 L656.05,255.85 L657.13,257.03 L658.23,258.20 L659.33,259.35 L660.45,260.49 L661.58,261.62 L662.73,262.72 L663.88,263.81 L665.05,264.87 L666.23,265.91 L667.42,266.93 L668.62,267.93 L669.83,268.90 L671.05,269.85 L672.27,270.76 L673.51,271.65 L674.75,272.51 L676.01,273.34 L677.27,274.13 L678.54,274.89 L679.81,275.62 L681.09,276.31 L682.38,276.96 L683.68,277.58 L684.98,278.15 L686.28,278.69 L687.59,279.18 L688.90,279.63 L690.22,280.04 L691.55,280.40 L692.87,280.71 L694.20,280.98 L695.53,281.19 L696.86,281.36 L698.20,281.48 L699.53,281.55 L700.87,281.58 L702.21,281.56 L703.55,281.49 L704.89,281.38 L706.23,281.22 L707.56,281.02 L708.90,280.77 L710.23,280.49 L711.56,280.15 L712.89,279.78 L714.22,279.36 L715.54,278.91 L716.86,278.41 L718.18,277.87 L719.49,277.30 L720.80,276.68 L722.10,276.03 L723.39,275.34 L724.68,274.61 L725.97,273.85 L727.24,273.06 L728.51,272.24 L729.77,271.38 L731.03,270.50 L732.27,269.59 L733.51,268.65 L734.74,267.69 L735.95,266.71 L737.16,265.70 L738.36,264.67 L739.54,263.62 L740.72,262.56 L741.88,261.47 L743.04,260.38 L744.17,259.26 L745.30,258.13 L746.42,257.00 L747.52,255.85 L748.60,254.69 L749.67,253.52 L750.73,252.35 L751.77,251.17 L752.80,249.98 L753.82,248.79 L754.82,247.60 L755.80,246.39 L756.78,245.19 L757.74,243.98 L758.69,242.76 L759.63,241.54 L760.55,240.31 L761.47,239.08 L762.37,237.85 L763.26,236.61 L764.14,235.36 L765.02,234.12 L765.88,232.87 L766.73,231.61 L767.58,230.35 L768.41,229.09 L769.24,227.83 L770.06,226.56 L770.87,225.30 L771.68,224.02 L772.48,222.75 L773.27,221.47 L774.06,220.19 L774.84,218.91 L775.61,217.63 L776.38,216.35 L777.14,215.06 L777.90,213.78 L778.66,212.49 L779.41,211.20 L780.16,209.91 L780.91,208.62 L781.65,207.33 L782.39,206.04 L783.13,204.74 L783.87,203.45 L784.60,202.16 L785.34,200.87 L786.07,199.58 L786.80,198.28 L787.54,196.99 L788.27,195.70 L789.01,194.42 L789.74,193.13 L790.48,191.84 L791.22,190.56 L791.96,189.27 L792.70,187.99 L793.45,186.71 L794.20,185.43 L794.95,184.16 L795.70,182.88 L796.46,181.61 L797.23,180.35 L798.00,179.08 L798.77,177.82 L799.55,176.56 L800.34,175.30 L801.13,174.05 L801.93,172.80 L802.74,171.55 L803.55,170.31 L804.37,169.08 L805.20,167.84 L806.03,166.61 L806.88,165.39 L807.73,164.17 L808.60,162.95 L809.47,161.74 L810.35,160.54 L811.24,159.34 L812.15,158.14 L813.06,156.95 L813.99,155.77 L814.93,154.59 L815.87,153.42 L816.84,152.26 L817.81,151.10 L818.80,149.94 L819.80,148.80 L820.81,147.66 L821.84,146.53 L822.89,145.40 L823.94,144.28 L825.02,143.17 L826.10,142.07 L827.21,140.98 L828.32,139.90 L829.45,138.84 L830.60,137.78 L831.76,136.74 L832.93,135.72 L834.12,134.72 L835.32,133.73 L836.54,132.76 L837.77,131.82 L839.01,130.89 L840.27,129.99 L841.54,129.12 L842.82,128.27 L844.12,127.44 L845.43,126.64 L846.75,125.88 L848.09,125.14 L849.43,124.43 L850.80,123.76 L852.17,123.12 L853.55,122.52 L854.95,121.95 L856.36,121.42 L857.79,120.92 L859.22,120.46 L860.66,120.04 L862.11,119.66 L863.57,119.31 L865.04,119.00 L866.51,118.73 L867.99,118.49 L869.47,118.29 L870.96,118.12 L872.45,117.98 L873.94,117.88 L875.44,117.82 L876.93,117.78 L878.42,117.79 L879.91,117.82 L881.40,117.89 L882.88,117.99 L884.37,118.12 L885.84,118.29 L887.31,118.49 L888.77,118.71 L890.23,118.97 L891.67,119.26 L893.11,119.59 L894.53,119.94 L895.95,120.32 L897.35,120.73 L898.74,121.17 L900.11,121.65 L901.47,122.15 L902.82,122.67 L904.15,123.23 L905.47,123.82 L906.77,124.43 L908.06,125.06 L909.33,125.73 L910.59,126.42 L911.84,127.13 L913.07,127.87 L914.29,128.64 L915.49,129.43 L916.69,130.24 L917.86,131.07 L919.03,131.93 L920.18,132.81 L921.32,133.71 L922.45,134.63 L923.56,135.57 L924.66,136.54 L925.75,137.52 L926.83,138.52 L927.89,139.54 L928.94,140.58 L929.99,141.63 L931.01,142.71 L932.03,143.80 L933.04,144.90 L934.03,146.03 L935.01,147.17 L935.98,148.32 L936.94,149.49 L937.89,150.67 L938.83,151.86 L939.76,153.07 L940.67,154.29 L941.58,155.53 L942.47,156.77 L943.36,158.03 L944.23,159.30 L945.10,160.58" stroke="#1010b0" stroke-width="1" stroke-dasharray="3 3" shape-rendering="crispEdges"/>
<path d="M618.50,83.92 L619.50,84.92 L620.50,85.92 L621.50,86.92 L622.50,87.91 L623.50,88.90 L624.50,89.89 L625.50,90.88 L626.50,91.87 L627.50,92.85 L628.50,93.83 L629.50,94.81 L630.50,95.78 L631.50,96.75 L632.50,97.72 L633.50,98.69 L634.50,99.66 L635.50,100.62 L636.50,101.58 L637.50,102.54 L638.50,103.50 L639.50,104.45 L640.50,105.40 L641.50,106.35 L642.50,107.30 L643.50,108.24 L644.50,109.18 L645.50,110.12 L646.50,111.06 L647.50,111.99 L648.50,112.92 L649.50,113.85 L650.50,114.78 L651.50,115.70 L652.50,116.62 L653.50,117.54 L654.50,118.45 L655.50,119.37 L656.50,120.28 L657.50,121.18 L658.50,122.09 L659.50,122.99 L660.50,123.89 L661.50,124.78 L662.50,125.68 L663.50,126.57 L664.50,127.45 L665.50,128.34 L666.50,129.22 L667.50,130.10 L668.50,130.98 L669.50,131.85 L670.50,132.72 L671.50,133.59 L672.50,134.45 L673.50,135.31 L674.50,136.17 L675.50,137.03 L676.50,137.88 L677.50,138.73 L678.50,139.58 L679.50,140.42 L680.50,141.26 L681.50,142.10 L682.50,142.94 L683.50,143.77 L684.50,144.60 L685.50,145.42 L686.50,146.24 L687.50,147.06 L688.50,147.88 L689.50,148.69 L690.50,149.50 L691.50,150.31 L692.50,151.11 L693.50,151.91 L694.50,152.71 L695.50,153.50 L696.50,154.29 L697.50,155.08 L698.50,155.87 L699.50,156.65 L700.50,157.42 L701.50,158.20 L702.50,158.97 L703.50,159.74 L704.50,160.50 L705.50,161.26 L706.50,162.02 L707.50,162.77 L708.50,163.52 L709.50,164.27 L710.50,165.01 L711.50,165.75 L712.50,166.49 L713.50,167.22 L714.50,167.95 L715.50,168.68 L716.50,169.40 L717.50,170.12 L718.50,170.84 L719.50,171.55 L720.50,172.26 L721.50,172.96 L722.50,173.67 L723.50,174.37 L724.50,175.06 L725.50,175.75 L726.50,176.44 L727.50,177.13 L728.50,177.81 L729.50,178.49 L730.50,179.17 L731.50,179.84 L732.50,180.51 L733.50,181.18 L734.50,181.84 L735.50,182.50 L736.50,183.16 L737.50,183.82 L738.50,184.47 L739.50,185.12 L740.50,185.77 L741.50,186.41 L742.50,187.05 L743.50,187.69 L744.50,188.33 L745.50,188.96 L746.50,189.59 L747.50,190.22 L748.50,190.84 L749.50,191.47 L750.50,192.09 L751.50,192.71 L752.50,193.32 L753.50,193.94 L754.50,194.55 L755.50,195.15 L756.50,195.76 L757.50,196.37 L758.50,196.97 L759.50,197.57 L760.50,198.16 L761.50,198.76 L762.50,199.35 L763.50,199.94 L764.50,200.53 L765.50,201.12 L766.50,201.70 L767.50,202.29 L768.50,202.87 L769.50,203.45 L770.50,204.03 L771.50,204.60 L772.50,205.17 L773.50,205.75 L774.50,206.32 L775.50,206.89 L776.50,207.45 L777.50,208.02 L778.50,208.58 L779.50,209.14 L780.50,209.70 L781.50,210.26 L782.50,210.82 L783.50,211.37 L784.50,211.93 L785.50,212.48 L786.50,213.03 L787.50,213.58 L788.50,214.13 L789.50,214.68 L790.50,215.23 L791.50,215.77 L792.50,216.32 L793.50,216.86 L794.50,217.40 L795.50,217.94 L796.50,218.48 L797.50,219.02 L798.50,219.56 L799.50,220.09 L800.50,220.63 L801.50,221.16 L802.50,221.70 L803.50,222.23 L804.50,222.76 L805.50,223.29 L806.50,223.83 L807.50,224.36 L808.50,224.88 L809.50,225.41 L810.50,225.94 L811.50,226.47 L812.50,227.00 L813.50,227.52 L814.50,228.05 L815.50,228.57 L816.50,229.10 L817.50,229.62 L818.50,230.15 L819.50,230.67 L820.50,231.19 L821.50,231.72 L822.50,232.24 L823.50,232.76 L824.50,233.28 L825.50,233.81 L826.50,234.33 L827.50,234.85 L828.50,235.37 L829.50,235.89 L830.50,236.42 L831.50,236.94 L832.50,237.46 L833.50,237.98 L834.50,238.50 L835.50,239.03 L836.50,239.55 L837.50,240.07 L838.50,240.59 L839.50,241.12 L840.50,241.64 L841.50,242.16 L842.50,242.69 L843.50,243.21 L844.50,243.74 L845.50,244.26 L846.50,244.79 L847.50,245.31 L848.50,245.84 L849.50,246.36 L850.50,246.89 L851.50,247.42 L852.50,247.94 L853.50,248.47 L854.50,249.00 L855.50,249.53 L856.50,250.06 L857.50,250.59 L858.50,251.12 L859.50,251.65 L860.50,252.18 L861.50,252.71 L862.50,253.24 L863.50,253.77 L864.50,254.31 L865.50,254.84 L866.50,255.38 L867.50,255.91 L868.50,256.45 L869.50,256.99 L870.50,257.52 L871.50,258.06 L872.50,258.60 L873.50,259.14 L874.50,259.68 L875.50,260.22 L876.50,260.76 L877.50,261.31 L878.50,261.85 L879.50,262.39 L880.50,262.94 L881.50,263.49 L882.50,264.03 L883.50,264.58 L884.50,265.13 L885.50,265.68 L886.50,266.23 L887.50,266.78 L888.50,267.34 L889.50,267.89 L890.50,268.45 L891.50,269.00 L892.50,269.56 L893.50,270.12 L894.50,270.68 L895.50,271.24 L896.50,271.80 L897.50,272.36 L898.50,272.92 L899.50,273.49 L900.50,274.05 L901.50,274.62 L902.50,275.19 L903.50,275.76 L904.50,276.33 L905.50,276.90 L906.50,277.48 L907.50,278.05 L908.50,278.63 L909.50,279.20 L910.50,279.78 L911.50,280.36 L912.50,280.94 L913.50,281.53 L914.50,282.11 L915.50,282.70 L916.50,283.28 L917.50,283.87 L918.50,284.46 L919.50,285.05 L920.50,285.65 L921.50,286.24 L922.50,286.84 L923.50,287.44 L924.50,288.04 L925.50,288.64 L926.50,289.24 L927.50,289.84 L928.50,290.45 L929.50,291.06 L930.50,291.66 L931.50,292.27 L932.50,292.89 L933.50,293.50 L934.50,294.12 L935.50,294.73 L936.50,295.35 L937.50,295.97 L938.50,296.60 L939.50,297.22 L940.50,297.85 L941.50,298.48 L942.50,299.11 L943.50,299.74 L944.50,300.37 L945.50,301.01 L946.50,301.65 L947.50,302.29 L948.50,302.93 L949.50,303.57 L950.50,304.22 L951.50,304.86 L952.50,305.51 L953.50,306.16 L954.50,306.82 L955.50,307.47 L956.50,308.13 L957.50,308.79 L958.50,309.45 L959.50,310.12 L960.50,310.78 L961.50,311.45 L962.50,312.12 L963.50,312.80 L964.50,313.47 L965.50,314.15 L966.50,314.84 L967.50,315.53 L968.50,316.22 L969.50,316.91 L970.50,317.61 L971.50,318.32 L972.50,319.03 L973.50,319.74 L974.50,320.46 L975.50,321.19 L976.50,321.92 L977.50,322.66 L978.50,323.40 L979.50,324.15 L980.50,324.91 L981.50,325.67 L982.50,326.44 L983.50,327.22 L984.50,328.01 L985.50,328.80 L986.50,329.60 L987.50,330.41 L988.50,331.23 L989.50,332.06 L990.50,332.89 L991.50,333.74 L992.50,334.60 L993.50,335.46 L994.50,336.34 L995.50,337.22 L996.50,338.12 L997.50,339.02 L998.50,339.94 L999.50,340.87 L1000.50,341.81 L1001.50,342.76 L1002.50,343.72 L1003.50,344.69 L1004.50,345.68 L1005.50,346.68 L1006.50,347.69 L1007.50,348.72 L1008.50,349.75 L1009.50,350.81 L1010.50,351.87 L1011.50,352.95 L1012.50,354.04 L1013.50,355.15 L1014.50,356.27 L1015.50,357.41 L1016.50,358.56 L1017.50,359.73 L1018.50,360.91 L1019.50,362.10 L1020.50,363.32 L1021.50,364.55 L1022.50,365.79 L1023.50,367.05 L1024.50,368.32 L1025.50,369.61 L1026.50,370.91 L1027.50,372.22 L1028.50,373.55 L1029.50,374.89 L1030.50,376.24 L1031.50,377.60 L1032.50,378.98 L1033.50,380.37 L1034.50,381.77 L1035.50,383.19 L1036.50,384.61 L1037.50,386.04 L1038.50,387.49 L1039.50,388.95 L1040.50,390.41 L1041.50,391.89 L1042.50,393.37 L1043.50,394.87 L1044.50,396.37 L1045.50,397.88 L1046.50,399.40 L1047.50,400.93 L1048.50,402.47 L1049.50,404.01 L1050.50,405.57" stroke="#e6000a" stroke-width="3"/>
<path d="M618.87,185.63 L619.77,187.09 L620.70,188.50 L621.68,189.87 L622.68,191.19 L623.73,192.47 L624.80,193.70 L625.91,194.89 L627.04,196.03 L628.20,197.12 L629.39,198.16 L630.60,199.15 L631.84,200.10 L633.09,201.00 L634.37,201.84 L635.66,202.64 L636.97,203.39 L638.29,204.08 L639.63,204.73 L640.98,205.32 L642.33,205.86 L643.70,206.34 L645.07,206.78 L646.44,207.16 L647.82,207.49 L649.20,207.76 L650.58,207.98 L651.96,208.14 L653.33,208.25 L654.70,208.30 L656.06,208.29 L657.41,208.23 L658.75,208.11 L660.08,207.93 L661.40,207.70 L662.70,207.41 L663.99,207.06 L665.27,206.66 L666.53,206.21 L667.79,205.71 L669.03,205.16 L670.25,204.56 L671.47,203.92 L672.68,203.23 L673.87,202.51 L675.05,201.74 L676.23,200.93 L677.39,200.09 L678.54,199.21 L679.68,198.29 L680.82,197.35 L681.94,196.37 L683.05,195.36 L684.16,194.33 L685.25,193.27 L686.34,192.18 L687.42,191.08 L688.50,189.95 L689.56,188.80 L690.62,187.64 L691.67,186.46 L692.71,185.26 L693.75,184.05 L694.78,182.83 L695.80,181.60 L696.82,180.36 L697.83,179.12 L698.84,177.87 L699.84,176.62 L700.84,175.36 L701.83,174.11 L702.82,172.85 L703.80,171.60 L704.78,170.36 L705.76,169.12 L706.73,167.88 L707.70,166.65 L708.67,165.42 L709.64,164.20 L710.60,162.98 L711.56,161.77 L712.53,160.57 L713.49,159.37 L714.45,158.18 L715.41,156.99 L716.37,155.81 L717.33,154.63 L718.29,153.46 L719.25,152.30 L720.22,151.14 L721.18,149.99 L722.15,148.85 L723.12,147.72 L724.09,146.59 L725.07,145.47 L726.05,144.35 L727.04,143.25 L728.02,142.15 L729.02,141.06 L730.01,139.98 L731.02,138.90 L732.03,137.84 L733.04,136.78 L734.06,135.73 L735.09,134.69 L736.12,133.66 L737.17,132.64 L738.22,131.63 L739.27,130.62 L740.34,129.63 L741.41,128.65 L742.50,127.67 L743.59,126.71 L744.69,125.75 L745.80,124.80 L746.92,123.87 L748.06,122.95 L749.20,122.03 L750.36,121.13 L751.52,120.24 L752.70,119.35 L753.89,118.48 L755.08,117.62 L756.29,116.78 L757.51,115.94 L758.74,115.11 L759.98,114.30 L761.22,113.50 L762.48,112.71 L763.75,111.93 L765.03,111.17 L766.31,110.42 L767.61,109.68 L768.91,108.95 L770.23,108.24 L771.55,107.53 L772.88,106.85 L774.22,106.17 L775.56,105.51 L776.92,104.86 L778.28,104.23 L779.65,103.61 L781.03,103.00 L782.42,102.41 L783.81,101.83 L785.22,101.27 L786.62,100.72 L788.04,100.18 L789.46,99.66 L790.89,99.16 L792.33,98.67 L793.77,98.19 L795.22,97.74 L796.67,97.29 L798.13,96.86 L799.60,96.45 L801.07,96.05 L802.55,95.67 L804.03,95.31 L805.51,94.96 L807.00,94.63 L808.49,94.32 L809.99,94.02 L811.49,93.74 L813.00,93.47 L814.50,93.23 L816.01,93.00 L817.52,92.79 L819.04,92.59 L820.56,92.42 L822.07,92.26 L823.59,92.12 L825.11,92.00 L826.64,91.90 L828.16,91.81 L829.68,91.75 L831.20,91.70 L832.73,91.67 L834.25,91.66 L835.77,91.67 L837.30,91.70 L838.82,91.75 L840.34,91.82 L841.85,91.91 L843.37,92.02 L844.88,92.15 L846.39,92.30 L847.90,92.47 L849.41,92.66 L850.91,92.87 L852.41,93.10 L853.91,93.35 L855.40,93.62 L856.89,93.91 L858.38,94.22 L859.86,94.55 L861.33,94.89 L862.80,95.26 L864.27,95.64 L865.72,96.04 L867.18,96.46 L868.63,96.90 L870.07,97.35 L871.50,97.82 L872.93,98.31 L874.35,98.82 L875.76,99.35 L877.17,99.89 L878.57,100.45 L879.96,101.02 L881.34,101.61 L882.71,102.22 L884.07,102.85 L885.43,103.49 L886.78,104.15 L888.11,104.82 L889.44,105.51 L890.76,106.21 L892.06,106.93 L893.36,107.66 L894.64,108.41 L895.91,109.17 L897.18,109.95 L898.43,110.74 L899.67,111.55 L900.90,112.37 L902.11,113.20 L903.32,114.05 L904.52,114.91 L905.70,115.79 L906.88,116.68 L908.04,117.58 L909.19,118.49 L910.34,119.42 L911.47,120.36 L912.59,121.31 L913.70,122.28 L914.80,123.25 L915.89,124.24 L916.97,125.24 L918.04,126.25 L919.10,127.28 L920.16,128.31 L921.20,129.36 L922.23,130.41 L923.25,131.48 L924.26,132.55 L925.27,133.64 L926.26,134.74 L927.24,135.85 L928.22,136.96 L929.18,138.09 L930.14,139.23 L931.09,140.37 L932.03,141.53 L932.96,142.69 L933.88,143.86 L934.79,145.05 L935.69,146.24 L936.59,147.43 L937.47,148.64 L938.35,149.85 L939.22,151.08 L940.08,152.30 L940.94,153.54 L941.78,154.79 L942.62,156.04 L943.45,157.29 L944.27,158.56 L945.08,159.83" stroke="#c81a24" stroke-width="1" stroke-dasharray="3 3" shape-rendering="crispEdges"/>
<path d="M618.50,86.35 L619.50,87.21 L620.50,88.07 L621.50,88.93 L622.50,89.77 L623.50,90.62 L624.50,91.45 L625.50,92.28 L626.50,93.11 L627.50,93.92 L628.50,94.74 L629.50,95.55 L630.50,96.35 L631.50,97.14 L632.50,97.94 L633.50,98.72 L634.50,99.50 L635.50,100.28 L636.50,101.05 L637.50,101.81 L638.50,102.57 L639.50,103.33 L640.50,104.08 L641.50,104.82 L642.50,105.57 L643.50,106.30 L644.50,107.03 L645.50,107.76 L646.50,108.48 L647.50,109.20 L648.50,109.91 L649.50,110.62 L650.50,111.33 L651.50,112.03 L652.50,112.72 L653.50,113.41 L654.50,114.10 L655.50,114.78 L656.50,115.46 L657.50,116.14 L658.50,116.81 L659.50,117.48 L660.50,118.14 L661.50,118.80 L662.50,119.46 L663.50,120.11 L664.50,120.76 L665.50,121.41 L666.50,122.05 L667.50,122.69 L668.50,123.33 L669.50,123.96 L670.50,124.59 L671.50,125.22 L672.50,125.84 L673.50,126.46 L674.50,127.08 L675.50,127.69 L676.50,128.30 L677.50,128.91 L678.50,129.52 L679.50,130.12 L680.50,130.72 L681.50,131.32 L682.50,131.92 L683.50,132.51 L684.50,133.10 L685.50,133.69 L686.50,134.28 L687.50,134.86 L688.50,135.44 L689.50,136.02 L690.50,136.60 L691.50,137.18 L692.50,137.75 L693.50,138.32 L694.50,138.89 L695.50,139.46 L696.50,140.03 L697.50,140.59 L698.50,141.16 L699.50,141.72 L700.50,142.28 L701.50,142.84 L702.50,143.40 L703.50,143.95 L704.50,144.51 L705.50,145.06 L706.50,145.62 L707.50,146.17 L708.50,146.72 L709.50,147.27 L710.50,147.82 L711.50,148.37 L712.50,148.92 L713.50,149.46 L714.50,150.01 L715.50,150.55 L716.50,151.10 L717.50,151.64 L718.50,152.19 L719.50,152.73 L720.50,153.27 L721.50,153.81 L722.50,154.35 L723.50,154.89 L724.50,155.43 L725.50,155.97 L726.50,156.51 L727.50,157.05 L728.50,157.59 L729.50,158.12 L730.50,158.66 L731.50,159.20 L732.50,159.73 L733.50,160.27 L734.50,160.81 L735.50,161.34 L736.50,161.88 L737.50,162.41 L738.50,162.95 L739.50,163.48 L740.50,164.02 L741.50,164.55 L742.50,165.09 L743.50,165.62 L744.50,166.16 L745.50,166.69 L746.50,167.23 L747.50,167.76 L748.50,168.30 L749.50,168.83 L750.50,169.37 L751.50,169.90 L752.50,170.44 L753.50,170.97 L754.50,171.51 L755.50,172.04 L756.50,172.58 L757.50,173.12 L758.50,173.65 L759.50,174.19 L760.50,174.73 L761.50,175.27 L762.50,175.81 L763.50,176.35 L764.50,176.89 L765.50,177.43 L766.50,177.97 L767.50,178.51 L768.50,179.05 L769.50,179.59 L770.50,180.14 L771.50,180.68 L772.50,181.22 L773.50,181.77 L774.50,182.32 L775.50,182.86 L776.50,183.41 L777.50,183.96 L778.50,184.51 L779.50,185.06 L780.50,185.61 L781.50,186.16 L782.50,186.71 L783.50,187.27 L784.50,187.82 L785.50,188.38 L786.50,188.93 L787.50,189.49 L788.50,190.04 L789.50,190.60 L790.50,191.16 L791.50,191.72 L792.50,192.28 L793.50,192.84 L794.50,193.40 L795.50,193.96 L796.50,194.52 L797.50,195.08 L798.50,195.64 L799.50,196.20 L800.50,196.77 L801.50,197.33 L802.50,197.89 L803.50,198.46 L804.50,199.02 L805.50,199.58 L806.50,200.15 L807.50,200.71 L808.50,201.28 L809.50,201.84 L810.50,202.41 L811.50,202.97 L812.50,203.54 L813.50,204.10 L814.50,204.66 L815.50,205.23 L816.50,205.79 L817.50,206.36 L818.50,206.92 L819.50,207.49 L820.50,208.05 L821.50,208.61 L822.50,209.18 L823.50,209.74 L824.50,210.31 L825.50,210.87 L826.50,211.43 L827.50,211.99 L828.50,212.55 L829.50,213.12 L830.50,213.68 L831.50,214.24 L832.50,214.80 L833.50,215.36 L834.50,215.92 L835.50,216.48 L836.50,217.03 L837.50,217.59 L838.50,218.15 L839.50,218.71 L840.50,219.26 L841.50,219.82 L842.50,220.37 L843.50,220.92 L844.50,221.48 L845.50,222.03 L846.50,222.58 L847.50,223.13 L848.50,223.68 L849.50,224.23 L850.50,224.78 L851.50,225.32 L852.50,225.87 L853.50,226.42 L854.50,226.96 L855.50,227.51 L856.50,228.05 L857.50,228.60 L858.50,229.14 L859.50,229.68 L860.50,230.23 L861.50,230.77 L862.50,231.31 L863.50,231.85 L864.50,232.40 L865.50,232.94 L866.50,233.48 L867.50,234.02 L868.50,234.56 L869.50,235.10 L870.50,235.65 L871.50,236.19 L872.50,236.73 L873.50,237.27 L874.50,237.81 L875.50,238.36 L876.50,238.90 L877.50,239.44 L878.50,239.99 L879.50,240.53 L880.50,241.07 L881.50,241.62 L882.50,242.16 L883.50,242.71 L884.50,243.25 L885.50,243.80 L886.50,244.35 L887.50,244.90 L888.50,245.44 L889.50,245.99 L890.50,246.54 L891.50,247.09 L892.50,247.65 L893.50,248.20 L894.50,248.75 L895.50,249.31 L896.50,249.86 L897.50,250.42 L898.50,250.98 L899.50,251.54 L900.50,252.10 L901.50,252.66 L902.50,253.22 L903.50,253.78 L904.50,254.35 L905.50,254.91 L906.50,255.48 L907.50,256.05 L908.50,256.62 L909.50,257.19 L910.50,257.77 L911.50,258.34 L912.50,258.92 L913.50,259.50 L914.50,260.07 L915.50,260.66 L916.50,261.24 L917.50,261.82 L918.50,262.41 L919.50,263.00 L920.50,263.59 L921.50,264.18 L922.50,264.78 L923.50,265.37 L924.50,265.97 L925.50,266.57 L926.50,267.18 L927.50,267.78 L928.50,268.39 L929.50,269.00 L930.50,269.61 L931.50,270.22 L932.50,270.84 L933.50,271.46 L934.50,272.08 L935.50,272.70 L936.50,273.33 L937.50,273.96 L938.50,274.59 L939.50,275.22 L940.50,275.86 L941.50,276.50 L942.50,277.14 L943.50,277.78 L944.50,278.43 L945.50,279.08 L946.50,279.73 L947.50,280.39 L948.50,281.05 L949.50,281.71 L950.50,282.37 L951.50,283.04 L952.50,283.71 L953.50,284.39 L954.50,285.07 L955.50,285.75 L956.50,286.44 L957.50,287.13 L958.50,287.82 L959.50,288.52 L960.50,289.22 L961.50,289.93 L962.50,290.64 L963.50,291.35 L964.50,292.07 L965.50,292.80 L966.50,293.53 L967.50,294.26 L968.50,295.00 L969.50,295.75 L970.50,296.50 L971.50,297.26 L972.50,298.02 L973.50,298.78 L974.50,299.56 L975.50,300.33 L976.50,301.12 L977.50,301.91 L978.50,302.71 L979.50,303.51 L980.50,304.32 L981.50,305.13 L982.50,305.96 L983.50,306.78 L984.50,307.62 L985.50,308.46 L986.50,309.31 L987.50,310.17 L988.50,311.03 L989.50,311.90 L990.50,312.78 L991.50,313.67 L992.50,314.56 L993.50,315.46 L994.50,316.37 L995.50,317.29 L996.50,318.21 L997.50,319.14 L998.50,320.08 L999.50,321.03 L1000.50,321.99 L1001.50,322.96 L1002.50,323.93 L1003.50,324.92 L1004.50,325.91 L1005.50,326.91 L1006.50,327.92 L1007.50,328.94 L1008.50,329.97 L1009.50,331.01 L1010.50,332.06 L1011.50,333.12 L1012.50,334.18 L1013.50,335.26 L1014.50,336.35 L1015.50,337.45 L1016.50,338.55 L1017.50,339.67 L1018.50,340.80 L1019.50,341.94 L1020.50,343.09 L1021.50,344.25 L1022.50,345.42 L1023.50,346.60 L1024.50,347.79 L1025.50,348.99 L1026.50,350.21 L1027.50,351.44 L1028.50,352.67 L1029.50,353.92 L1030.50,355.18 L1031.50,356.45 L1032.50,357.74 L1033.50,359.03 L1034.50,360.34 L1035.50,361.66 L1036.50,362.99 L1037.50,364.34 L1038.50,365.70 L1039.50,367.07 L1040.50,368.45 L1041.50,369.84 L1042.50,371.25 L1043.50,372.67 L1044.50,374.11 L1045.50,375.55 L1046.50,377.01 L1047.50,378.49 L1048.50,379.98 L1049.50,381.48 L1050.50,382.99" stroke="#159ea0" stroke-width="3"/>
<path d="M618.52,148.09 L620.03,148.01 L621.53,147.88 L623.01,147.71 L624.48,147.49 L625.93,147.22 L627.37,146.91 L628.80,146.56 L630.22,146.17 L631.62,145.74 L633.02,145.28 L634.40,144.77 L635.77,144.24 L637.13,143.67 L638.48,143.06 L639.83,142.43 L641.16,141.77 L642.48,141.08 L643.80,140.36 L645.11,139.62 L646.41,138.85 L647.70,138.07 L648.99,137.26 L650.27,136.43 L651.55,135.58 L652.82,134.72 L654.08,133.84 L655.34,132.94 L656.60,132.04 L657.85,131.12 L659.09,130.19 L660.34,129.26 L661.58,128.31 L662.82,127.36 L664.06,126.41 L665.29,125.45 L666.53,124.50 L667.76,123.54 L668.99,122.58 L670.23,121.62 L671.46,120.67 L672.70,119.72 L673.93,118.78 L675.17,117.85 L676.41,116.93 L677.65,116.02 L678.89,115.11 L680.14,114.23 L681.39,113.36 L682.65,112.50 L683.90,111.66 L685.17,110.84 L686.44,110.04 L687.71,109.26 L688.99,108.49 L690.27,107.75 L691.56,107.02 L692.85,106.31 L694.15,105.61 L695.45,104.94 L696.75,104.28 L698.06,103.64 L699.38,103.01 L700.70,102.40 L702.02,101.80 L703.35,101.22 L704.69,100.66 L706.03,100.10 L707.37,99.57 L708.72,99.05 L710.07,98.54 L711.42,98.04 L712.79,97.56 L714.15,97.09 L715.52,96.64 L716.90,96.19 L718.27,95.76 L719.66,95.34 L721.04,94.93 L722.44,94.53 L723.83,94.15 L725.23,93.77 L726.64,93.41 L728.05,93.05 L729.46,92.71 L730.88,92.37 L732.30,92.04 L733.73,91.73 L735.16,91.42 L736.60,91.12 L738.04,90.82 L739.48,90.54 L740.93,90.26 L742.38,89.99 L743.84,89.73 L745.30,89.47 L746.76,89.22 L748.23,88.98 L749.70,88.74 L751.18,88.50 L752.66,88.28 L754.15,88.05 L755.64,87.83 L757.13,87.62 L758.63,87.41 L760.13,87.20 L761.64,87.00 L763.15,86.80 L764.66,86.61 L766.17,86.42 L767.69,86.23 L769.22,86.05 L770.74,85.88 L772.27,85.71 L773.80,85.54 L775.33,85.38 L776.87,85.23 L778.41,85.08 L779.95,84.94 L781.49,84.81 L783.03,84.68 L784.58,84.55 L786.12,84.44 L787.67,84.33 L789.22,84.23 L790.77,84.13 L792.32,84.05 L793.87,83.97 L795.42,83.90 L796.97,83.84 L798.52,83.78 L800.07,83.73 L801.63,83.70 L803.18,83.67 L804.73,83.65 L806.28,83.64 L807.83,83.64 L809.37,83.64 L810.92,83.66 L812.47,83.69 L814.01,83.73 L815.55,83.78 L817.09,83.83 L818.63,83.90 L820.17,83.98 L821.70,84.07 L823.23,84.18 L824.76,84.29 L826.29,84.41 L827.81,84.55 L829.33,84.70 L830.85,84.86 L832.37,85.03 L833.88,85.21 L835.38,85.41 L836.89,85.62 L838.38,85.85 L839.88,86.08 L841.37,86.33 L842.86,86.59 L844.34,86.87 L845.81,87.16 L847.29,87.47 L848.75,87.78 L850.22,88.12 L851.67,88.46 L853.12,88.83 L854.57,89.20 L856.01,89.60 L857.44,90.00 L858.87,90.43 L860.29,90.87 L861.70,91.32 L863.11,91.79 L864.51,92.28 L865.90,92.78 L867.29,93.30 L868.67,93.84 L870.04,94.39 L871.40,94.96 L872.76,95.55 L874.11,96.15 L875.45,96.76 L876.79,97.40 L878.12,98.04 L879.44,98.71 L880.75,99.38 L882.06,100.08 L883.35,100.78 L884.64,101.51 L885.93,102.24 L887.20,102.99 L888.47,103.76 L889.73,104.53 L890.98,105.32 L892.23,106.13 L893.46,106.95 L894.69,107.78 L895.91,108.62 L897.13,109.47 L898.33,110.34 L899.53,111.22 L900.72,112.11 L901.91,113.02 L903.08,113.93 L904.25,114.86 L905.41,115.80 L906.56,116.75 L907.70,117.71 L908.84,118.68 L909.96,119.66 L911.08,120.65 L912.19,121.65 L913.30,122.66 L914.39,123.68 L915.48,124.71 L916.56,125.75 L917.63,126.80 L918.69,127.86 L919.74,128.93 L920.79,130.00 L921.83,131.09 L922.86,132.18 L923.88,133.28 L924.89,134.39 L925.90,135.50 L926.89,136.63 L927.88,137.76 L928.86,138.89 L929.83,140.04 L930.79,141.19 L931.75,142.35 L932.69,143.51 L933.63,144.68 L934.56,145.86 L935.48,147.04 L936.39,148.22 L937.29,149.42 L938.19,150.62 L939.07,151.82 L939.95,153.03 L940.82,154.24 L941.68,155.46 L942.53,156.68 L943.37,157.91 L944.21,159.14 L945.04,160.38" stroke="#1a9ca0" stroke-width="1" stroke-dasharray="3 3" shape-rendering="crispEdges"/>
<path d="M945.08,159.83 L945.89,161.11 L946.69,162.39 L947.48,163.68 L948.26,164.98 L949.03,166.28 L949.80,167.59 L950.56,168.90 L951.32,170.22 L952.06,171.54 L952.80,172.87 L953.53,174.20 L954.26,175.54 L954.98,176.88 L955.69,178.23 L956.39,179.58 L957.09,180.93 L957.78,182.29 L958.47,183.65 L959.15,185.01 L959.82,186.38 L960.48,187.75 L961.14,189.12 L961.80,190.50 L962.45,191.87 L963.09,193.26 L963.72,194.64 L964.35,196.02 L964.98,197.41 L965.60,198.80 L966.21,200.19 L966.82,201.58 L967.42,202.97 L968.02,204.36 L968.61,205.76 L969.19,207.15 L969.77,208.55 L970.35,209.94 L970.92,211.34 L971.49,212.74 L972.05,214.14 L972.61,215.54 L973.16,216.95 L973.71,218.35 L974.25,219.75 L974.79,221.16 L975.32,222.56 L975.85,223.97 L976.38,225.38 L976.90,226.79 L977.41,228.20 L977.93,229.61 L978.44,231.02 L978.94,232.43 L979.44,233.85 L979.94,235.26 L980.43,236.68 L980.92,238.09 L981.41,239.51 L981.90,240.92 L982.38,242.34 L982.85,243.76 L983.33,245.18 L983.80,246.60 L984.27,248.02 L984.73,249.44 L985.19,250.87 L985.65,252.29 L986.11,253.71 L986.56,255.14 L987.01,256.56 L987.46,257.99 L987.91,259.42 L988.35,260.84 L988.79,262.27 L989.23,263.70 L989.67,265.13 L990.10,266.56 L990.54,267.99 L990.97,269.42 L991.40,270.85 L991.82,272.28 L992.25,273.72 L992.67,275.15 L993.10,276.58 L993.52,278.02 L993.94,279.45 L994.35,280.88 L994.77,282.32 L995.19,283.76 L995.60,285.19 L996.02,286.63 L996.43,288.06 L996.84,289.50 L997.25,290.94 L997.66,292.38 L998.07,293.82 L998.48,295.25 L998.89,296.69 L999.30,298.13 L999.71,299.57 L1000.12,301.01 L1000.52,302.45 L1000.93,303.89 L1001.34,305.33 L1001.75,306.78 L1002.15,308.22 L1002.56,309.66 L1002.97,311.10 L1003.38,312.54 L1003.78,313.98 L1004.19,315.43 L1004.60,316.87 L1005.01,318.31 L1005.42,319.76 L1005.83,321.20 L1006.24,322.64 L1006.64,324.09 L1007.05,325.53 L1007.46,326.97 L1007.87,328.42 L1008.28,329.86 L1008.69,331.31 L1009.10,332.75 L1009.50,334.20 L1009.91,335.64 L1010.32,337.09 L1010.73,338.54 L1011.14,339.98 L1011.54,341.43 L1011.95,342.88 L1012.36,344.32 L1012.76,345.77 L1013.17,347.22 L1013.58,348.67 L1013.98,350.11 L1014.39,351.56 L1014.79,353.01 L1015.20,354.46 L1015.60,355.91 L1016.01,357.36 L1016.41,358.81 L1016.81,360.25 L1017.22,361.70 L1017.62,363.15 L1018.02,364.60 L1018.42,366.06 L1018.82,367.51 L1019.22,368.96 L1019.62,370.41 L1020.02,371.86 L1020.42,373.31 L1020.82,374.76 L1021.21,376.21 L1021.61,377.67 L1022.01,379.12 L1022.40,380.57 L1022.80,382.02 L1023.19,383.48 L1023.58,384.93 L1023.98,386.38 L1024.37,387.84 L1024.76,389.29 L1025.15,390.75 L1025.54,392.20 L1025.93,393.66 L1026.31,395.11 L1026.70,396.57 L1027.08,398.02 L1027.47,399.48 L1027.85,400.93 L1028.24,402.39 L1028.62,403.85 L1029.00,405.30 L1029.38,406.76 L1029.76,408.22 L1030.13,409.67 L1030.51,411.13 L1030.89,412.59 L1031.26,414.05 L1031.63,415.50 L1032.01,416.96 L1032.38,418.42 L1032.75,419.88 L1033.12,421.34 L1033.48,422.80 L1033.85,424.26 L1034.22,425.72 L1034.58,427.18 L1034.94,428.64 L1035.30,430.10 L1035.66,431.56 L1036.02,433.02 L1036.38,434.48 L1036.73,435.94 L1037.09,437.40 L1037.44,438.87 L1037.79,440.33 L1038.14,441.79 L1038.49,443.25 L1038.84,444.71 L1039.19,446.18 L1039.53,447.64 L1039.87,449.10 L1040.21,450.57 L1040.55,452.03 L1040.89,453.50 L1041.23,454.96 L1041.56,456.42 L1041.90,457.89 L1042.23,459.35 L1042.56,460.82 L1042.88,462.29 L1043.21,463.75 L1043.54,465.22 L1043.86,466.68 L1044.18,468.15 L1044.50,469.62 L1044.82,471.08 L1045.13,472.55 L1045.45,474.02 L1045.76,475.48 L1046.07,476.95 L1046.38,478.42 L1046.68,479.89 L1046.99,481.36 L1047.29,482.83 L1047.59,484.29 L1047.89,485.76 L1048.19,487.23 L1048.48,488.70 L1048.77,490.17 L1049.06,491.64 L1049.35,493.11 L1049.64,494.58 L1049.92,496.05 L1050.20,497.53 L1050.48,499.00" stroke="#c81a24" stroke-width="1" stroke-dasharray="3 3" shape-rendering="crispEdges"/>
<path d="M945.10,160.58 L945.95,161.86 L946.80,163.16 L947.63,164.47 L948.46,165.78 L949.27,167.10 L950.08,168.43 L950.87,169.77 L951.66,171.12 L952.44,172.47 L953.21,173.82 L953.97,175.18 L954.73,176.55 L955.47,177.92 L956.20,179.29 L956.93,180.67 L957.65,182.05 L958.36,183.43 L959.06,184.82 L959.76,186.21 L960.45,187.59 L961.12,188.98 L961.80,190.37 L962.46,191.76 L963.12,193.15 L963.77,194.54 L964.41,195.93 L965.05,197.32 L965.68,198.72 L966.30,200.11 L966.91,201.50 L967.52,202.90 L968.12,204.29 L968.72,205.69 L969.31,207.09 L969.89,208.48 L970.47,209.88 L971.04,211.28 L971.61,212.68 L972.17,214.08 L972.72,215.48 L973.27,216.88 L973.82,218.28 L974.36,219.68 L974.89,221.09 L975.42,222.49 L975.94,223.90 L976.46,225.30 L976.98,226.71 L977.48,228.11 L977.99,229.52 L978.49,230.93 L978.99,232.33 L979.48,233.74 L979.97,235.15 L980.45,236.56 L980.93,237.97 L981.41,239.38 L981.88,240.80 L982.35,242.21 L982.82,243.62 L983.28,245.03 L983.74,246.45 L984.20,247.86 L984.65,249.28 L985.10,250.70 L985.55,252.11 L985.99,253.53 L986.44,254.95 L986.88,256.37 L987.31,257.79 L987.75,259.20 L988.18,260.63 L988.62,262.05 L989.05,263.47 L989.47,264.89 L989.90,266.31 L990.33,267.74 L990.75,269.16 L991.17,270.58 L991.59,272.01 L992.01,273.44 L992.43,274.86 L992.85,276.29 L993.27,277.72 L993.68,279.14 L994.10,280.57 L994.51,282.00 L994.93,283.43 L995.34,284.86 L995.76,286.29 L996.17,287.73 L996.59,289.16 L997.00,290.59 L997.42,292.02 L997.83,293.46 L998.25,294.89 L998.66,296.33 L999.08,297.76 L999.49,299.20 L999.91,300.64 L1000.33,302.07 L1000.74,303.51 L1001.16,304.95 L1001.57,306.39 L1001.99,307.83 L1002.40,309.27 L1002.82,310.71 L1003.24,312.15 L1003.65,313.59 L1004.07,315.03 L1004.48,316.48 L1004.90,317.92 L1005.31,319.36 L1005.73,320.81 L1006.14,322.25 L1006.55,323.70 L1006.97,325.14 L1007.38,326.59 L1007.80,328.03 L1008.21,329.48 L1008.62,330.93 L1009.04,332.37 L1009.45,333.82 L1009.86,335.27 L1010.27,336.72 L1010.69,338.17 L1011.10,339.62 L1011.51,341.07 L1011.92,342.52 L1012.33,343.97 L1012.74,345.42 L1013.15,346.87 L1013.56,348.33 L1013.96,349.78 L1014.37,351.23 L1014.78,352.68 L1015.19,354.14 L1015.59,355.59 L1016.00,357.05 L1016.40,358.50 L1016.81,359.95 L1017.21,361.41 L1017.62,362.87 L1018.02,364.32 L1018.42,365.78 L1018.82,367.23 L1019.23,368.69 L1019.63,370.15 L1020.03,371.61 L1020.43,373.06 L1020.82,374.52 L1021.22,375.98 L1021.62,377.44 L1022.01,378.90 L1022.41,380.36 L1022.80,381.82 L1023.20,383.28 L1023.59,384.74 L1023.98,386.20 L1024.37,387.66 L1024.76,389.12 L1025.15,390.58 L1025.54,392.04 L1025.93,393.50 L1026.32,394.96 L1026.70,396.42 L1027.09,397.89 L1027.47,399.35 L1027.85,400.81 L1028.24,402.27 L1028.62,403.74 L1029.00,405.20 L1029.38,406.66 L1029.75,408.13 L1030.13,409.59 L1030.51,411.05 L1030.88,412.52 L1031.25,413.98 L1031.63,415.44 L1032.00,416.91 L1032.37,418.37 L1032.74,419.84 L1033.10,421.30 L1033.47,422.77 L1033.84,424.23 L1034.20,425.70 L1034.56,427.16 L1034.92,428.63 L1035.28,430.09 L1035.64,431.56 L1036.00,433.02 L1036.36,434.49 L1036.71,435.96 L1037.07,437.42 L1037.42,438.89 L1037.77,440.35 L1038.12,441.82 L1038.47,443.29 L1038.81,444.75 L1039.16,446.22 L1039.50,447.68 L1039.84,449.15 L1040.18,450.62 L1040.52,452.08 L1040.86,453.55 L1041.20,455.02 L1041.53,456.48 L1041.86,457.95 L1042.19,459.41 L1042.52,460.88 L1042.85,462.35 L1043.18,463.81 L1043.50,465.28 L1043.83,466.75 L1044.15,468.21 L1044.47,469.68 L1044.79,471.14 L1045.10,472.61 L1045.42,474.08 L1045.73,475.54 L1046.04,477.01 L1046.35,478.47 L1046.66,479.94 L1046.96,481.41 L1047.27,482.87 L1047.57,484.34 L1047.87,485.80 L1048.17,487.27 L1048.46,488.73 L1048.76,490.20 L1049.05,491.66 L1049.34,493.13 L1049.63,494.59 L1049.92,496.06 L1050.20,497.52 L1050.49,498.99" stroke="#1010b0" stroke-width="1.1" stroke-dasharray="3 3" shape-rendering="crispEdges"/>
<path d="M945.04,160.38 L945.86,161.62 L946.67,162.87 L947.47,164.12 L948.27,165.37 L949.05,166.63 L949.83,167.90 L950.61,169.17 L951.37,170.44 L952.13,171.72 L952.88,173.00 L953.62,174.29 L954.36,175.58 L955.09,176.87 L955.81,178.17 L956.53,179.47 L957.23,180.78 L957.93,182.09 L958.63,183.40 L959.32,184.72 L960.00,186.04 L960.67,187.37 L961.34,188.70 L962.00,190.03 L962.66,191.37 L963.31,192.71 L963.95,194.05 L964.59,195.40 L965.22,196.75 L965.84,198.10 L966.46,199.46 L967.08,200.82 L967.68,202.18 L968.29,203.55 L968.88,204.92 L969.47,206.29 L970.06,207.66 L970.64,209.04 L971.21,210.42 L971.78,211.81 L972.35,213.20 L972.91,214.59 L973.46,215.98 L974.01,217.37 L974.56,218.77 L975.10,220.17 L975.63,221.58 L976.16,222.98 L976.69,224.39 L977.21,225.80 L977.73,227.21 L978.24,228.63 L978.75,230.04 L979.26,231.46 L979.76,232.88 L980.26,234.31 L980.75,235.73 L981.24,237.16 L981.72,238.59 L982.21,240.02 L982.68,241.46 L983.16,242.89 L983.63,244.33 L984.10,245.77 L984.56,247.21 L985.02,248.65 L985.48,250.09 L985.93,251.54 L986.39,252.98 L986.84,254.43 L987.28,255.88 L987.72,257.33 L988.16,258.78 L988.60,260.23 L989.04,261.69 L989.47,263.14 L989.90,264.60 L990.33,266.06 L990.75,267.51 L991.18,268.97 L991.60,270.43 L992.02,271.89 L992.43,273.36 L992.85,274.82 L993.26,276.28 L993.67,277.75 L994.08,279.21 L994.49,280.67 L994.90,282.14 L995.31,283.61 L995.71,285.07 L996.11,286.54 L996.51,288.01 L996.91,289.47 L997.31,290.94 L997.71,292.41 L998.11,293.88 L998.50,295.34 L998.90,296.81 L999.29,298.28 L999.69,299.75 L1000.08,301.21 L1000.48,302.68 L1000.87,304.15 L1001.26,305.62 L1001.65,307.08 L1002.04,308.55 L1002.44,310.01 L1002.83,311.48 L1003.22,312.94 L1003.61,314.41 L1004.00,315.87 L1004.39,317.33 L1004.79,318.80 L1005.18,320.26 L1005.57,321.72 L1005.97,323.18 L1006.36,324.64 L1006.76,326.10 L1007.15,327.55 L1007.55,329.01 L1007.95,330.46 L1008.35,331.92 L1008.75,333.37 L1009.15,334.82 L1009.55,336.27 L1009.95,337.72 L1010.35,339.17 L1010.75,340.62 L1011.16,342.07 L1011.56,343.51 L1011.97,344.96 L1012.37,346.41 L1012.78,347.85 L1013.18,349.29 L1013.59,350.74 L1013.99,352.18 L1014.40,353.62 L1014.81,355.06 L1015.22,356.50 L1015.62,357.94 L1016.03,359.38 L1016.44,360.82 L1016.85,362.26 L1017.26,363.69 L1017.66,365.13 L1018.07,366.57 L1018.48,368.00 L1018.89,369.44 L1019.29,370.88 L1019.70,372.31 L1020.11,373.75 L1020.52,375.18 L1020.92,376.62 L1021.33,378.05 L1021.74,379.49 L1022.14,380.92 L1022.55,382.35 L1022.95,383.79 L1023.36,385.22 L1023.76,386.66 L1024.17,388.09 L1024.57,389.52 L1024.97,390.96 L1025.37,392.39 L1025.77,393.83 L1026.17,395.26 L1026.57,396.70 L1026.97,398.13 L1027.37,399.56 L1027.77,401.00 L1028.16,402.44 L1028.56,403.87 L1028.95,405.31 L1029.34,406.74 L1029.73,408.18 L1030.13,409.62 L1030.52,411.05 L1030.90,412.49 L1031.29,413.93 L1031.68,415.37 L1032.06,416.81 L1032.45,418.25 L1032.83,419.69 L1033.21,421.13 L1033.59,422.57 L1033.97,424.01 L1034.34,425.45 L1034.72,426.90 L1035.09,428.34 L1035.46,429.79 L1035.83,431.23 L1036.20,432.68 L1036.57,434.13 L1036.93,435.58 L1037.29,437.02 L1037.66,438.47 L1038.02,439.93 L1038.37,441.38 L1038.73,442.83 L1039.08,444.28 L1039.43,445.74 L1039.78,447.20 L1040.13,448.65 L1040.48,450.11 L1040.82,451.57 L1041.16,453.03 L1041.50,454.49 L1041.84,455.96 L1042.17,457.42 L1042.50,458.89 L1042.83,460.35 L1043.16,461.82 L1043.49,463.29 L1043.81,464.76 L1044.13,466.23 L1044.45,467.71 L1044.76,469.18 L1045.07,470.66 L1045.38,472.14 L1045.69,473.62 L1045.99,475.10 L1046.30,476.58 L1046.59,478.06 L1046.89,479.55 L1047.18,481.04 L1047.47,482.53 L1047.76,484.02 L1048.05,485.51 L1048.33,487.01 L1048.60,488.50 L1048.88,490.00 L1049.15,491.50 L1049.42,493.00 L1049.69,494.51 L1049.95,496.01 L1050.21,497.52 L1050.46,499.03" stroke="#1a9ca0" stroke-width="1" stroke-dasharray="3 3" shape-rendering="crispEdges" stroke-dashoffset="3"/>
</g>
<text transform="translate(610.0,51.9) scale(0.955,1)" x="0" y="0" font-size="14.0" fill="#000" font-weight="bold" text-anchor="end">80dB</text>
<text transform="translate(1093.4,51.9) scale(0.955,1)" x="0" y="0" font-size="14.0" fill="#000" font-weight="bold" text-anchor="end">-80°</text>
<text transform="translate(610.0,110.9) scale(0.955,1)" x="0" y="0" font-size="14.0" fill="#000" font-weight="bold" text-anchor="end">60dB</text>
<text transform="translate(1093.4,110.9) scale(0.955,1)" x="0" y="0" font-size="14.0" fill="#000" font-weight="bold" text-anchor="end">-100°</text>
<text transform="translate(610.0,169.9) scale(0.955,1)" x="0" y="0" font-size="14.0" fill="#000" font-weight="bold" text-anchor="end">40dB</text>
<text transform="translate(1093.4,169.9) scale(0.955,1)" x="0" y="0" font-size="14.0" fill="#000" font-weight="bold" text-anchor="end">-120°</text>
<text transform="translate(610.0,228.9) scale(0.955,1)" x="0" y="0" font-size="14.0" fill="#000" font-weight="bold" text-anchor="end">20dB</text>
<text transform="translate(1093.4,228.9) scale(0.955,1)" x="0" y="0" font-size="14.0" fill="#000" font-weight="bold" text-anchor="end">-140°</text>
<text transform="translate(610.0,287.9) scale(0.955,1)" x="0" y="0" font-size="14.0" fill="#000" font-weight="bold" text-anchor="end">0dB</text>
<text transform="translate(1093.4,287.9) scale(0.955,1)" x="0" y="0" font-size="14.0" fill="#000" font-weight="bold" text-anchor="end">-160°</text>
<text transform="translate(610.0,346.9) scale(0.955,1)" x="0" y="0" font-size="14.0" fill="#000" font-weight="bold" text-anchor="end">-20dB</text>
<text transform="translate(1093.4,346.9) scale(0.955,1)" x="0" y="0" font-size="14.0" fill="#000" font-weight="bold" text-anchor="end">-180°</text>
<text transform="translate(610.0,405.9) scale(0.955,1)" x="0" y="0" font-size="14.0" fill="#000" font-weight="bold" text-anchor="end">-40dB</text>
<text transform="translate(1093.4,405.9) scale(0.955,1)" x="0" y="0" font-size="14.0" fill="#000" font-weight="bold" text-anchor="end">-200°</text>
<text transform="translate(610.0,464.9) scale(0.955,1)" x="0" y="0" font-size="14.0" fill="#000" font-weight="bold" text-anchor="end">-60dB</text>
<text transform="translate(1093.4,464.9) scale(0.955,1)" x="0" y="0" font-size="14.0" fill="#000" font-weight="bold" text-anchor="end">-220°</text>
<text transform="translate(610.0,523.9) scale(0.955,1)" x="0" y="0" font-size="14.0" fill="#000" font-weight="bold" text-anchor="end">-80dB</text>
<text transform="translate(1093.4,523.9) scale(0.955,1)" x="0" y="0" font-size="14.0" fill="#000" font-weight="bold" text-anchor="end">-240°</text>
<text transform="translate(610.0,582.9) scale(0.955,1)" x="0" y="0" font-size="14.0" fill="#000" font-weight="bold" text-anchor="end">-100dB</text>
<text transform="translate(1093.4,582.9) scale(0.955,1)" x="0" y="0" font-size="14.0" fill="#000" font-weight="bold" text-anchor="end">-260°</text>
<text transform="translate(617.5,598.8) scale(0.955,1)" x="0" y="0" font-size="14.0" fill="#000" font-weight="bold" text-anchor="middle">1KHz</text>
<text transform="translate(725.5,598.8) scale(0.955,1)" x="0" y="0" font-size="14.0" fill="#000" font-weight="bold" text-anchor="middle">10KHz</text>
<text transform="translate(833.5,598.8) scale(0.955,1)" x="0" y="0" font-size="14.0" fill="#000" font-weight="bold" text-anchor="middle">100KHz</text>
<text transform="translate(941.5,598.8) scale(0.955,1)" x="0" y="0" font-size="14.0" fill="#000" font-weight="bold" text-anchor="middle">1MHz</text>
<text transform="translate(1049.5,598.8) scale(0.955,1)" x="0" y="0" font-size="14.0" fill="#000" font-weight="bold" text-anchor="middle">10MHz</text>
<text transform="translate(833.6,41.8) scale(0.92,1)" x="0" y="0" font-size="14.2" fill="#20cc20" font-weight="normal" text-anchor="middle" stroke="#20cc20" stroke-width="0.45">-V(y)/V(x)</text>
</svg></body></html>
